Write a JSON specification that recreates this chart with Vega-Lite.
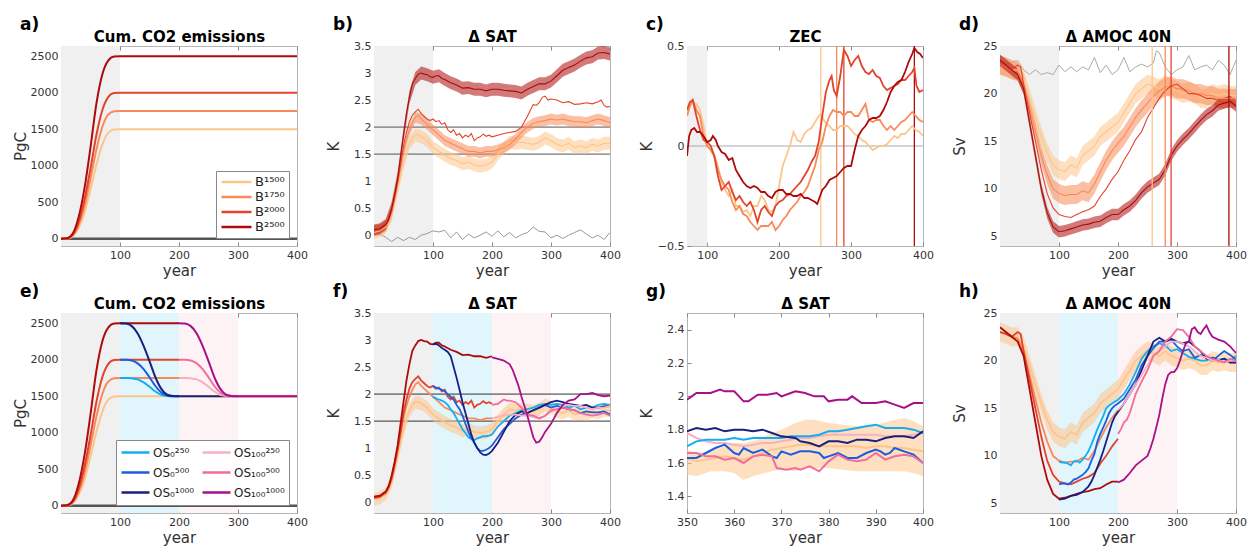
{
"$schema": "https://vega.github.io/schema/vega-lite/v6.json",
"background": "white",
"padding": {"left": 12, "top": 15, "right": 3, "bottom": 2},
"columns": 4,
"bounds": "flush",
"spacing": {"column": 77, "row": 67},
"resolve": {"scale": {"color": "independent", "fill": "independent"}, "legend": {"color": "independent"}},
"config": {
  "font": "DejaVu Sans",
  "view": {"stroke": "#b5b5b5", "strokeWidth": 1},
  "axis": {"grid": false, "domain": false, "ticks": true, "tickSize": -4, "tickColor": "#888", "labelFlush": false, "labelFontSize": 11, "labelColor": "#333", "labelPadding": 7, "titleFontSize": 15, "titleFontWeight": "normal", "titleColor": "#333", "titlePadding": 3},
  "axisY": {"minExtent": 30, "maxExtent": 30},
  "title": {"fontSize": 17, "fontWeight": "bold", "color": "#000", "offset": -4, "anchor": "start", "frame": "group", "dx": -41},
  "legend": {"labelFont": "DejaVu Sans", "labelColor": "#222"}
},
"concat": [
{
  "width": 236, "height": 200, "title": "a)",
  "resolve": {"axis": {"x": "independent"}},
  "encoding": {"x": {"field": "x", "type": "quantitative", "scale": {"domain": [0, 400], "nice": false, "zero": false}, "axis": null}},
  "layer": [
    {"data": {"name": "shade"}, "transform": [{"filter": "datum.p=='base'"}], "mark": {"type": "rect", "clip": true}, "encoding": {
      "x": {"field": "x", "type": "quantitative", "scale": {"domain": [0, 400], "nice": false, "zero": false}, "axis": {"orient": "top", "values": [100, 200, 300, 400], "labels": false, "title": "Cum. CO2 emissions", "titleFontSize": 15, "titleFontWeight": "bold", "titleColor": "#000", "titlePadding": 1}},
      "x2": {"field": "x2"}, "fill": {"field": "p", "type": "nominal", "scale": {"domain": ["base", "os0", "os100"], "range": ["#f0f0f0", "#e1f5fd", "#fdf2f4"]}, "legend": null}}},
    {"data": {"name": "cum"}, "transform": [{"filter": "datum.s=='CTRL'"}], "mark": {"type": "line", "strokeWidth": 2.5, "color": "#555"}, "encoding": {"y": {"field": "y", "type": "quantitative", "scale": {"domain": [-100, 2640], "nice": false, "zero": false}, "axis": {"values": [0, 500, 1000, 1500, 2000, 2500], "title": "PgC", "format": "~r"}}}},
    {"data": {"name": "cum"}, "transform": [{"filter": "indexof(['B1500','B1750','B2000','B2500'], datum.s) >= 0"}], "mark": {"type": "line", "strokeWidth": 2, "interpolate": "monotone"}, "encoding": {
      "x": {"field": "x", "type": "quantitative", "scale": {"domain": [0, 400], "nice": false, "zero": false}, "axis": {"values": [100, 200, 300, 400], "title": "year", "format": "~r"}},
      "y": {"field": "y", "type": "quantitative", "scale": {"domain": [-100, 2640], "nice": false, "zero": false}, "axis": {"values": [0, 500, 1000, 1500, 2000, 2500], "title": "PgC", "format": "~r"}},
      "color": {"field": "s", "type": "nominal", "scale": {"domain": ["B1500","B1750","B2000","B2500","OS0_250","OS0_500","OS0_1000","OS100_250","OS100_500","OS100_1000","CTRL"], "range": ["#fdc58a","#f88a5a","#e3432b","#ad0b0b","#13aef0","#1c5de0","#1b1f7e","#f7b0c0","#f26c9c","#a6118a","#999999"]},
        "legend": {"orient": "bottom-right", "values": ["B1500","B1750","B2000","B2500"], "title": null, "symbolType": "stroke", "symbolSize": 900, "symbolStrokeWidth": 2.5, "clipHeight": 14, "labelFontSize": 13, "labelExpr": "datum.label=='B1500'?'B¹⁵⁰⁰':datum.label=='B1750'?'B¹⁷⁵⁰':datum.label=='B2000'?'B²⁰⁰⁰':'B²⁵⁰⁰'", "fillColor": "white", "strokeColor": "#888", "padding": 4, "offset": 8, "rowPadding": 1, "labelOffset": 2}}
    }}
  ]
},
{
  "width": 236, "height": 200, "title": "b)",
  "resolve": {"axis": {"x": "independent"}},
  "encoding": {"x": {"field": "x", "type": "quantitative", "scale": {"domain": [0, 400], "nice": false, "zero": false}, "axis": null}},
  "layer": [
    {"data": {"name": "shade"}, "transform": [{"filter": "datum.p=='base'"}], "mark": {"type": "rect", "clip": true}, "encoding": {
      "x": {"field": "x", "type": "quantitative", "scale": {"domain": [0, 400], "nice": false, "zero": false}, "axis": {"orient": "top", "values": [100, 200, 300, 400], "labels": false, "title": "Δ SAT", "titleFontSize": 15, "titleFontWeight": "bold", "titleColor": "#000", "titlePadding": 1}},
      "x2": {"field": "x2"}, "fill": {"field": "p", "type": "nominal", "scale": {"domain": ["base", "os0", "os100"], "range": ["#f0f0f0", "#e1f5fd", "#fdf2f4"]}, "legend": null}}},
    {"data": {"name": "hl"}, "mark": {"type": "rule", "color": "#555", "strokeWidth": 1}, "encoding": {"x2": {"field": "x2"}, "y": {"field": "y", "type": "quantitative", "scale": {"domain": [-0.2, 3.5], "nice": false, "zero": false}, "axis": {"values": [0, 0.5, 1, 1.5, 2, 2.5, 3, 3.5], "title": "K", "format": "~r"}}}},
    {"data": {"name": "sat"}, "transform": [{"filter": "datum.s=='CTRL'"}], "mark": {"type": "line", "strokeWidth": 1, "color": "#999"}, "encoding": {"y": {"field": "y", "type": "quantitative", "scale": {"domain": [-0.2, 3.5], "nice": false, "zero": false}, "axis": {"values": [0, 0.5, 1, 1.5, 2, 2.5, 3, 3.5], "title": "K", "format": "~r"}}}},
    {"data": {"name": "satband"}, "mark": {"type": "area", "opacity": 0.55, "clip": true}, "encoding": {
      "y": {"field": "lo", "type": "quantitative", "scale": {"domain": [-0.2, 3.5], "nice": false, "zero": false}, "axis": {"values": [0, 0.5, 1, 1.5, 2, 2.5, 3, 3.5], "title": "K", "format": "~r"}},
      "y2": {"field": "hi"},
      "color": {"field": "s", "type": "nominal", "scale": {"domain": ["B1500","B1750","B2000","B2500","OS0_250","OS0_500","OS0_1000","OS100_250","OS100_500","OS100_1000","CTRL"], "range": ["#fdc58a","#f88a5a","#e3432b","#ad0b0b","#13aef0","#1c5de0","#1b1f7e","#f7b0c0","#f26c9c","#a6118a","#999999"]}, "legend": null}}},
    {"data": {"name": "sat"}, "transform": [{"filter": "indexof(['B1500','B1750','B2000','B2500'], datum.s) >= 0"}], "mark": {"type": "line", "strokeWidth": 1.1, "clip": true}, "encoding": {
      "x": {"field": "x", "type": "quantitative", "scale": {"domain": [0, 400], "nice": false, "zero": false}, "axis": {"values": [100, 200, 300, 400], "title": "year", "format": "~r"}},
      "y": {"field": "y", "type": "quantitative", "scale": {"domain": [-0.2, 3.5], "nice": false, "zero": false}, "axis": {"values": [0, 0.5, 1, 1.5, 2, 2.5, 3, 3.5], "title": "K", "format": "~r"}},
      "color": {"field": "s", "type": "nominal", "scale": {"domain": ["B1500","B1750","B2000","B2500","OS0_250","OS0_500","OS0_1000","OS100_250","OS100_500","OS100_1000","CTRL"], "range": ["#fdc58a","#f88a5a","#e3432b","#ad0b0b","#13aef0","#1c5de0","#1b1f7e","#f7b0c0","#f26c9c","#a6118a","#999999"]}, "legend": null}}}
  ]
},
{
  "width": 236, "height": 200, "title": "c)",
  "resolve": {"axis": {"x": "independent"}},
  "encoding": {"x": {"field": "x", "type": "quantitative", "scale": {"domain": [72, 400], "nice": false, "zero": false}, "axis": null}},
  "layer": [
    {"data": {"name": "shade"}, "transform": [{"filter": "datum.p=='base'"}], "mark": {"type": "rect", "clip": true}, "encoding": {
      "x": {"field": "x", "type": "quantitative", "scale": {"domain": [72, 400], "nice": false, "zero": false}, "axis": {"orient": "top", "values": [100, 200, 300, 400], "labels": false, "title": "ZEC", "titleFontSize": 15, "titleFontWeight": "bold", "titleColor": "#000", "titlePadding": 1}},
      "x2": {"field": "x2"}, "fill": {"field": "p", "type": "nominal", "scale": {"domain": ["base", "os0", "os100"], "range": ["#f0f0f0", "#e1f5fd", "#fdf2f4"]}, "legend": null}}},
    {"data": {"name": "zero"}, "mark": {"type": "rule", "color": "#aaa", "strokeWidth": 1.2, "clip": true}, "encoding": {"x2": {"field": "x2"}, "y": {"field": "y", "type": "quantitative", "scale": {"domain": [-0.5, 0.5], "nice": false, "zero": false}, "axis": {"values": [-0.5, 0, 0.5], "title": "K", "format": "~r"}}}},
    {"data": {"name": "vl"}, "mark": {"type": "rule", "strokeWidth": 1.3}, "encoding": {"color": {"field": "s", "type": "nominal", "scale": {"domain": ["B1500","B1750","B2000","B2500","OS0_250","OS0_500","OS0_1000","OS100_250","OS100_500","OS100_1000","CTRL"], "range": ["#fdc58a","#f88a5a","#e3432b","#ad0b0b","#13aef0","#1c5de0","#1b1f7e","#f7b0c0","#f26c9c","#a6118a","#999999"]}, "legend": null}}},
    {"data": {"name": "zec"}, "mark": {"type": "line", "strokeWidth": 1.8, "clip": true}, "encoding": {
      "x": {"field": "x", "type": "quantitative", "scale": {"domain": [72, 400], "nice": false, "zero": false}, "axis": {"values": [100, 200, 300, 400], "title": "year", "format": "~r"}},
      "y": {"field": "y", "type": "quantitative", "scale": {"domain": [-0.5, 0.5], "nice": false, "zero": false}, "axis": {"values": [-0.5, 0, 0.5], "title": "K", "format": "~r"}},
      "color": {"field": "s", "type": "nominal", "scale": {"domain": ["B1500","B1750","B2000","B2500","OS0_250","OS0_500","OS0_1000","OS100_250","OS100_500","OS100_1000","CTRL"], "range": ["#fdc58a","#f88a5a","#e3432b","#ad0b0b","#13aef0","#1c5de0","#1b1f7e","#f7b0c0","#f26c9c","#a6118a","#999999"]}, "legend": null}}}
  ]
},
{
  "width": 236, "height": 200, "title": "d)",
  "resolve": {"axis": {"x": "independent"}},
  "encoding": {"x": {"field": "x", "type": "quantitative", "scale": {"domain": [0, 400], "nice": false, "zero": false}, "axis": null}},
  "layer": [
    {"data": {"name": "shade"}, "transform": [{"filter": "datum.p=='base'"}], "mark": {"type": "rect", "clip": true}, "encoding": {
      "x": {"field": "x", "type": "quantitative", "scale": {"domain": [0, 400], "nice": false, "zero": false}, "axis": {"orient": "top", "values": [100, 200, 300, 400], "labels": false, "title": "Δ AMOC 40N", "titleFontSize": 15, "titleFontWeight": "bold", "titleColor": "#000", "titlePadding": 1}},
      "x2": {"field": "x2"}, "fill": {"field": "p", "type": "nominal", "scale": {"domain": ["base", "os0", "os100"], "range": ["#f0f0f0", "#e1f5fd", "#fdf2f4"]}, "legend": null}}},
    {"data": {"name": "amoc"}, "transform": [{"filter": "datum.s=='CTRL'"}], "mark": {"type": "line", "strokeWidth": 1, "color": "#aaa"}, "encoding": {"y": {"field": "y", "type": "quantitative", "scale": {"domain": [4, 25], "nice": false, "zero": false}, "axis": {"values": [5, 10, 15, 20, 25], "title": "Sv", "format": "~r"}}}},
    {"data": {"name": "amocband"}, "mark": {"type": "area", "opacity": 0.55, "clip": true}, "encoding": {
      "y": {"field": "lo", "type": "quantitative", "scale": {"domain": [4, 25], "nice": false, "zero": false}, "axis": {"values": [5, 10, 15, 20, 25], "title": "Sv", "format": "~r"}},
      "y2": {"field": "hi"},
      "color": {"field": "s", "type": "nominal", "scale": {"domain": ["B1500","B1750","B2000","B2500","OS0_250","OS0_500","OS0_1000","OS100_250","OS100_500","OS100_1000","CTRL"], "range": ["#fdc58a","#f88a5a","#e3432b","#ad0b0b","#13aef0","#1c5de0","#1b1f7e","#f7b0c0","#f26c9c","#a6118a","#999999"]}, "legend": null}}},
    {"data": {"name": "amoc"}, "transform": [{"filter": "indexof(['B1500','B1750','B2000','B2500'], datum.s) >= 0"}], "mark": {"type": "line", "strokeWidth": 1.1, "clip": true}, "encoding": {
      "x": {"field": "x", "type": "quantitative", "scale": {"domain": [0, 400], "nice": false, "zero": false}, "axis": {"values": [100, 200, 300, 400], "title": "year", "format": "~r"}},
      "y": {"field": "y", "type": "quantitative", "scale": {"domain": [4, 25], "nice": false, "zero": false}, "axis": {"values": [5, 10, 15, 20, 25], "title": "Sv", "format": "~r"}},
      "color": {"field": "s", "type": "nominal", "scale": {"domain": ["B1500","B1750","B2000","B2500","OS0_250","OS0_500","OS0_1000","OS100_250","OS100_500","OS100_1000","CTRL"], "range": ["#fdc58a","#f88a5a","#e3432b","#ad0b0b","#13aef0","#1c5de0","#1b1f7e","#f7b0c0","#f26c9c","#a6118a","#999999"]}, "legend": null}}},
    {"data": {"name": "vl"}, "mark": {"type": "rule", "strokeWidth": 1.3}, "encoding": {"color": {"field": "s", "type": "nominal", "scale": {"domain": ["B1500","B1750","B2000","B2500","OS0_250","OS0_500","OS0_1000","OS100_250","OS100_500","OS100_1000","CTRL"], "range": ["#fdc58a","#f88a5a","#e3432b","#ad0b0b","#13aef0","#1c5de0","#1b1f7e","#f7b0c0","#f26c9c","#a6118a","#999999"]}, "legend": null}}}
  ]
},
{
  "width": 236, "height": 200, "title": "e)",
  "resolve": {"axis": {"x": "independent"}},
  "encoding": {"x": {"field": "x", "type": "quantitative", "scale": {"domain": [0, 400], "nice": false, "zero": false}, "axis": null}},
  "layer": [
    {"data": {"name": "shade"}, "mark": {"type": "rect", "clip": true}, "encoding": {
      "x": {"field": "x", "type": "quantitative", "scale": {"domain": [0, 400], "nice": false, "zero": false}, "axis": {"orient": "top", "values": [100, 200, 300, 400], "labels": false, "title": "Cum. CO2 emissions", "titleFontSize": 15, "titleFontWeight": "bold", "titleColor": "#000", "titlePadding": 1}},
      "x2": {"field": "x2"}, "fill": {"field": "p", "type": "nominal", "scale": {"domain": ["base", "os0", "os100"], "range": ["#f0f0f0", "#e1f5fd", "#fdf2f4"]}, "legend": null}}},
    {"data": {"name": "cum"}, "transform": [{"filter": "datum.s=='CTRL'"}], "mark": {"type": "line", "strokeWidth": 2.5, "color": "#555"}, "encoding": {"y": {"field": "y", "type": "quantitative", "scale": {"domain": [-100, 2640], "nice": false, "zero": false}, "axis": {"values": [0, 500, 1000, 1500, 2000, 2500], "title": "PgC", "format": "~r"}}}},
    {"data": {"name": "cum"}, "transform": [{"filter": "datum.s=='B1500' || (indexof(['B1750','B2000','B2500'], datum.s) >= 0 && datum.x <= 200)"}], "mark": {"type": "line", "strokeWidth": 2, "interpolate": "monotone"}, "encoding": {
      "y": {"field": "y", "type": "quantitative", "scale": {"domain": [-100, 2640], "nice": false, "zero": false}, "axis": {"values": [0, 500, 1000, 1500, 2000, 2500], "title": "PgC", "format": "~r"}},
      "color": {"field": "s", "type": "nominal", "scale": {"domain": ["B1500","B1750","B2000","B2500","OS0_250","OS0_500","OS0_1000","OS100_250","OS100_500","OS100_1000","CTRL"], "range": ["#fdc58a","#f88a5a","#e3432b","#ad0b0b","#13aef0","#1c5de0","#1b1f7e","#f7b0c0","#f26c9c","#a6118a","#999999"]},
        "legend": {"orient": "bottom-right", "values": ["OS0_250","OS0_500","OS0_1000","OS100_250","OS100_500","OS100_1000"], "columns": 2, "title": null, "symbolType": "stroke", "symbolSize": 784, "symbolStrokeWidth": 2.5, "clipHeight": 17, "labelFontSize": 12, "labelExpr": "datum.label=='OS0_250'?'OS₀²⁵⁰':datum.label=='OS0_500'?'OS₀⁵⁰⁰':datum.label=='OS0_1000'?'OS₀¹⁰⁰⁰':datum.label=='OS100_250'?'OS₁₀₀²⁵⁰':datum.label=='OS100_500'?'OS₁₀₀⁵⁰⁰':'OS₁₀₀¹⁰⁰⁰'", "fillColor": "white", "strokeColor": "#888", "padding": 4, "offset": 8, "rowPadding": 3, "columnPadding": 6, "labelOffset": 2}}}},
    {"data": {"name": "cum"}, "transform": [{"filter": "indexof(['OS0_250','OS0_500','OS0_1000','OS100_250','OS100_500','OS100_1000'], datum.s) >= 0"}], "mark": {"type": "line", "strokeWidth": 2, "interpolate": "monotone"}, "encoding": {
      "x": {"field": "x", "type": "quantitative", "scale": {"domain": [0, 400], "nice": false, "zero": false}, "axis": {"values": [100, 200, 300, 400], "title": "year", "format": "~r"}},
      "y": {"field": "y", "type": "quantitative", "scale": {"domain": [-100, 2640], "nice": false, "zero": false}, "axis": {"values": [0, 500, 1000, 1500, 2000, 2500], "title": "PgC", "format": "~r"}},
      "color": {"field": "s", "type": "nominal", "scale": {"domain": ["B1500","B1750","B2000","B2500","OS0_250","OS0_500","OS0_1000","OS100_250","OS100_500","OS100_1000","CTRL"], "range": ["#fdc58a","#f88a5a","#e3432b","#ad0b0b","#13aef0","#1c5de0","#1b1f7e","#f7b0c0","#f26c9c","#a6118a","#999999"]},
        "legend": {"orient": "bottom-right", "values": ["OS0_250","OS0_500","OS0_1000","OS100_250","OS100_500","OS100_1000"], "columns": 2, "title": null, "symbolType": "stroke", "symbolSize": 784, "symbolStrokeWidth": 2.5, "clipHeight": 17, "labelFontSize": 12, "labelExpr": "datum.label=='OS0_250'?'OS₀²⁵⁰':datum.label=='OS0_500'?'OS₀⁵⁰⁰':datum.label=='OS0_1000'?'OS₀¹⁰⁰⁰':datum.label=='OS100_250'?'OS₁₀₀²⁵⁰':datum.label=='OS100_500'?'OS₁₀₀⁵⁰⁰':'OS₁₀₀¹⁰⁰⁰'", "fillColor": "white", "strokeColor": "#888", "padding": 4, "offset": 8, "rowPadding": 3, "columnPadding": 6, "labelOffset": 2}}
    }}
  ]
},
{
  "width": 236, "height": 200, "title": "f)",
  "resolve": {"axis": {"x": "independent"}},
  "encoding": {"x": {"field": "x", "type": "quantitative", "scale": {"domain": [0, 400], "nice": false, "zero": false}, "axis": null}},
  "layer": [
    {"data": {"name": "shade"}, "mark": {"type": "rect", "clip": true}, "encoding": {
      "x": {"field": "x", "type": "quantitative", "scale": {"domain": [0, 400], "nice": false, "zero": false}, "axis": {"orient": "top", "values": [100, 200, 300, 400], "labels": false, "title": "Δ SAT", "titleFontSize": 15, "titleFontWeight": "bold", "titleColor": "#000", "titlePadding": 1}},
      "x2": {"field": "x2"}, "fill": {"field": "p", "type": "nominal", "scale": {"domain": ["base", "os0", "os100"], "range": ["#f0f0f0", "#e1f5fd", "#fdf2f4"]}, "legend": null}}},
    {"data": {"name": "hl"}, "mark": {"type": "rule", "color": "#333", "strokeWidth": 1}, "encoding": {"x2": {"field": "x2"}, "y": {"field": "y", "type": "quantitative", "scale": {"domain": [-0.2, 3.5], "nice": false, "zero": false}, "axis": {"values": [0, 0.5, 1, 1.5, 2, 2.5, 3, 3.5], "title": "K", "format": "~r"}}}},
    {"data": {"name": "satband"}, "transform": [{"filter": "datum.s=='B1500'"}], "mark": {"type": "area", "opacity": 0.55, "clip": true}, "encoding": {
      "y": {"field": "lo", "type": "quantitative", "scale": {"domain": [-0.2, 3.5], "nice": false, "zero": false}, "axis": {"values": [0, 0.5, 1, 1.5, 2, 2.5, 3, 3.5], "title": "K", "format": "~r"}},
      "y2": {"field": "hi"},
      "color": {"field": "s", "type": "nominal", "scale": {"domain": ["B1500","B1750","B2000","B2500","OS0_250","OS0_500","OS0_1000","OS100_250","OS100_500","OS100_1000","CTRL"], "range": ["#fdc58a","#f88a5a","#e3432b","#ad0b0b","#13aef0","#1c5de0","#1b1f7e","#f7b0c0","#f26c9c","#a6118a","#999999"]}, "legend": null}}},
    {"data": {"name": "sat"}, "transform": [{"filter": "datum.s=='B1500' || (indexof(['B1750','B2000','B2500'], datum.s) >= 0 && datum.x <= 200)"}], "mark": {"type": "line", "strokeWidth": 1.8, "clip": true}, "encoding": {
      "y": {"field": "y", "type": "quantitative", "scale": {"domain": [-0.2, 3.5], "nice": false, "zero": false}, "axis": {"values": [0, 0.5, 1, 1.5, 2, 2.5, 3, 3.5], "title": "K", "format": "~r"}},
      "color": {"field": "s", "type": "nominal", "scale": {"domain": ["B1500","B1750","B2000","B2500","OS0_250","OS0_500","OS0_1000","OS100_250","OS100_500","OS100_1000","CTRL"], "range": ["#fdc58a","#f88a5a","#e3432b","#ad0b0b","#13aef0","#1c5de0","#1b1f7e","#f7b0c0","#f26c9c","#a6118a","#999999"]}, "legend": null}}},
    {"data": {"name": "sat"}, "transform": [{"filter": "indexof(['OS0_250','OS0_500','OS0_1000','OS100_250','OS100_500','OS100_1000'], datum.s) >= 0"}], "mark": {"type": "line", "strokeWidth": 1.8, "clip": true}, "encoding": {
      "x": {"field": "x", "type": "quantitative", "scale": {"domain": [0, 400], "nice": false, "zero": false}, "axis": {"values": [100, 200, 300, 400], "title": "year", "format": "~r"}},
      "y": {"field": "y", "type": "quantitative", "scale": {"domain": [-0.2, 3.5], "nice": false, "zero": false}, "axis": {"values": [0, 0.5, 1, 1.5, 2, 2.5, 3, 3.5], "title": "K", "format": "~r"}},
      "color": {"field": "s", "type": "nominal", "scale": {"domain": ["B1500","B1750","B2000","B2500","OS0_250","OS0_500","OS0_1000","OS100_250","OS100_500","OS100_1000","CTRL"], "range": ["#fdc58a","#f88a5a","#e3432b","#ad0b0b","#13aef0","#1c5de0","#1b1f7e","#f7b0c0","#f26c9c","#a6118a","#999999"]}, "legend": null}}}
  ]
},
{
  "width": 236, "height": 200, "title": "g)",
  "resolve": {"axis": {"x": "independent"}},
  "encoding": {"x": {"field": "x", "type": "quantitative", "scale": {"domain": [350, 400], "nice": false, "zero": false}, "axis": null}},
  "layer": [
    {"data": {"name": "satgband"}, "mark": {"type": "area", "opacity": 0.55, "clip": true}, "encoding": {
      "x": {"field": "x", "type": "quantitative", "scale": {"domain": [350, 400], "nice": false, "zero": false}, "axis": {"orient": "top", "values": [350, 360, 370, 380, 390, 400], "labels": false, "title": "Δ SAT", "titleFontSize": 15, "titleFontWeight": "bold", "titleColor": "#000", "titlePadding": 1}},
      "y": {"field": "lo", "type": "quantitative", "scale": {"domain": [1.3, 2.5], "nice": false, "zero": false}, "axis": {"values": [1.4, 1.6, 1.8, 2, 2.2, 2.4], "title": "K", "format": "~r"}},
      "y2": {"field": "hi"},
      "color": {"field": "s", "type": "nominal", "scale": {"domain": ["B1500","B1750","B2000","B2500","OS0_250","OS0_500","OS0_1000","OS100_250","OS100_500","OS100_1000","CTRL"], "range": ["#fdc58a","#f88a5a","#e3432b","#ad0b0b","#13aef0","#1c5de0","#1b1f7e","#f7b0c0","#f26c9c","#a6118a","#999999"]}, "legend": null}}},
    {"data": {"name": "satg"}, "mark": {"type": "line", "strokeWidth": 2, "clip": true}, "encoding": {
      "x": {"field": "x", "type": "quantitative", "scale": {"domain": [350, 400], "nice": false, "zero": false}, "axis": {"values": [350, 360, 370, 380, 390, 400], "title": "year", "format": "~r"}},
      "y": {"field": "y", "type": "quantitative", "scale": {"domain": [1.3, 2.5], "nice": false, "zero": false}, "axis": {"values": [1.4, 1.6, 1.8, 2, 2.2, 2.4], "title": "K", "format": "~r"}},
      "color": {"field": "s", "type": "nominal", "scale": {"domain": ["B1500","B1750","B2000","B2500","OS0_250","OS0_500","OS0_1000","OS100_250","OS100_500","OS100_1000","CTRL"], "range": ["#fdc58a","#f88a5a","#e3432b","#ad0b0b","#13aef0","#1c5de0","#1b1f7e","#f7b0c0","#f26c9c","#a6118a","#999999"]}, "legend": null}}}
  ]
},
{
  "width": 236, "height": 200, "title": "h)",
  "resolve": {"axis": {"x": "independent"}},
  "encoding": {"x": {"field": "x", "type": "quantitative", "scale": {"domain": [0, 400], "nice": false, "zero": false}, "axis": null}},
  "layer": [
    {"data": {"name": "shade"}, "mark": {"type": "rect", "clip": true}, "encoding": {
      "x": {"field": "x", "type": "quantitative", "scale": {"domain": [0, 400], "nice": false, "zero": false}, "axis": {"orient": "top", "values": [100, 200, 300, 400], "labels": false, "title": "Δ AMOC 40N", "titleFontSize": 15, "titleFontWeight": "bold", "titleColor": "#000", "titlePadding": 1}},
      "x2": {"field": "x2"}, "fill": {"field": "p", "type": "nominal", "scale": {"domain": ["base", "os0", "os100"], "range": ["#f0f0f0", "#e1f5fd", "#fdf2f4"]}, "legend": null}}},
    {"data": {"name": "amocband"}, "transform": [{"filter": "datum.s=='B1500'"}], "mark": {"type": "area", "opacity": 0.55, "clip": true}, "encoding": {
      "y": {"field": "lo", "type": "quantitative", "scale": {"domain": [4, 25], "nice": false, "zero": false}, "axis": {"values": [5, 10, 15, 20, 25], "title": "Sv", "format": "~r"}},
      "y2": {"field": "hi"},
      "color": {"field": "s", "type": "nominal", "scale": {"domain": ["B1500","B1750","B2000","B2500","OS0_250","OS0_500","OS0_1000","OS100_250","OS100_500","OS100_1000","CTRL"], "range": ["#fdc58a","#f88a5a","#e3432b","#ad0b0b","#13aef0","#1c5de0","#1b1f7e","#f7b0c0","#f26c9c","#a6118a","#999999"]}, "legend": null}}},
    {"data": {"name": "amoc"}, "transform": [{"filter": "datum.s=='B1500' || (indexof(['B1750','B2000','B2500'], datum.s) >= 0 && datum.x <= 200)"}], "mark": {"type": "line", "strokeWidth": 1.8, "clip": true}, "encoding": {
      "y": {"field": "y", "type": "quantitative", "scale": {"domain": [4, 25], "nice": false, "zero": false}, "axis": {"values": [5, 10, 15, 20, 25], "title": "Sv", "format": "~r"}},
      "color": {"field": "s", "type": "nominal", "scale": {"domain": ["B1500","B1750","B2000","B2500","OS0_250","OS0_500","OS0_1000","OS100_250","OS100_500","OS100_1000","CTRL"], "range": ["#fdc58a","#f88a5a","#e3432b","#ad0b0b","#13aef0","#1c5de0","#1b1f7e","#f7b0c0","#f26c9c","#a6118a","#999999"]}, "legend": null}}},
    {"data": {"name": "amoc"}, "transform": [{"filter": "indexof(['OS0_250','OS0_500','OS0_1000','OS100_250','OS100_500','OS100_1000'], datum.s) >= 0"}], "mark": {"type": "line", "strokeWidth": 1.8, "clip": true}, "encoding": {
      "x": {"field": "x", "type": "quantitative", "scale": {"domain": [0, 400], "nice": false, "zero": false}, "axis": {"values": [100, 200, 300, 400], "title": "year", "format": "~r"}},
      "y": {"field": "y", "type": "quantitative", "scale": {"domain": [4, 25], "nice": false, "zero": false}, "axis": {"values": [5, 10, 15, 20, 25], "title": "Sv", "format": "~r"}},
      "color": {"field": "s", "type": "nominal", "scale": {"domain": ["B1500","B1750","B2000","B2500","OS0_250","OS0_500","OS0_1000","OS100_250","OS100_500","OS100_1000","CTRL"], "range": ["#fdc58a","#f88a5a","#e3432b","#ad0b0b","#13aef0","#1c5de0","#1b1f7e","#f7b0c0","#f26c9c","#a6118a","#999999"]}, "legend": null}}}
  ]
}
],
"datasets": {
"shade": [{"p":"base","x":0,"x2":100},{"p":"os0","x":100,"x2":200},{"p":"os100","x":200,"x2":300}],
"hl": [{"x":0,"x2":400,"y":2},{"x":0,"x2":400,"y":1.5}],
"zero": [{"x":0,"x2":400,"y":0}],
"vl": [{"s":"B1500","x":258},{"s":"B1750","x":280},{"s":"B2000","x":290},{"s":"B2500","x":388}],
"cum": [
{"s":"CTRL","x":0,"y":0},{"s":"CTRL","x":400,"y":0},
{"s":"B1500","x":0,"y":0},{"s":"B1500","x":10,"y":2},{"s":"B1500","x":20,"y":35},{"s":"B1500","x":30,"y":150},{"s":"B1500","x":40,"y":360},{"s":"B1500","x":50,"y":670},{"s":"B1500","x":60,"y":1010},{"s":"B1500","x":70,"y":1290},{"s":"B1500","x":80,"y":1450},{"s":"B1500","x":90,"y":1495},{"s":"B1500","x":100,"y":1500},{"s":"B1500","x":200,"y":1500},{"s":"B1500","x":400,"y":1500},
{"s":"B1750","x":0,"y":0},{"s":"B1750","x":10,"y":3},{"s":"B1750","x":20,"y":45},{"s":"B1750","x":30,"y":190},{"s":"B1750","x":40,"y":450},{"s":"B1750","x":50,"y":820},{"s":"B1750","x":60,"y":1220},{"s":"B1750","x":70,"y":1530},{"s":"B1750","x":80,"y":1700},{"s":"B1750","x":90,"y":1745},{"s":"B1750","x":100,"y":1750},{"s":"B1750","x":200,"y":1750},{"s":"B1750","x":400,"y":1750},
{"s":"B2000","x":0,"y":0},{"s":"B2000","x":10,"y":4},{"s":"B2000","x":20,"y":55},{"s":"B2000","x":30,"y":230},{"s":"B2000","x":40,"y":540},{"s":"B2000","x":50,"y":960},{"s":"B2000","x":60,"y":1420},{"s":"B2000","x":70,"y":1760},{"s":"B2000","x":80,"y":1940},{"s":"B2000","x":90,"y":1995},{"s":"B2000","x":100,"y":2000},{"s":"B2000","x":200,"y":2000},{"s":"B2000","x":400,"y":2000},
{"s":"B2500","x":0,"y":0},{"s":"B2500","x":10,"y":5},{"s":"B2500","x":20,"y":70},{"s":"B2500","x":30,"y":300},{"s":"B2500","x":40,"y":700},{"s":"B2500","x":50,"y":1250},{"s":"B2500","x":60,"y":1850},{"s":"B2500","x":70,"y":2250},{"s":"B2500","x":80,"y":2440},{"s":"B2500","x":90,"y":2495},{"s":"B2500","x":100,"y":2500},{"s":"B2500","x":200,"y":2500},{"s":"B2500","x":400,"y":2500},
{"s":"OS0_250","x":100,"y":1750},{"s":"OS0_250","x":110,"y":1750},{"s":"OS0_250","x":120,"y":1745},{"s":"OS0_250","x":130,"y":1730},{"s":"OS0_250","x":140,"y":1690},{"s":"OS0_250","x":150,"y":1630},{"s":"OS0_250","x":160,"y":1565},{"s":"OS0_250","x":170,"y":1520},{"s":"OS0_250","x":180,"y":1503},{"s":"OS0_250","x":190,"y":1500},{"s":"OS0_250","x":200,"y":1500},
{"s":"OS0_500","x":100,"y":2000},{"s":"OS0_500","x":110,"y":2000},{"s":"OS0_500","x":120,"y":1990},{"s":"OS0_500","x":130,"y":1950},{"s":"OS0_500","x":140,"y":1870},{"s":"OS0_500","x":150,"y":1760},{"s":"OS0_500","x":160,"y":1640},{"s":"OS0_500","x":170,"y":1550},{"s":"OS0_500","x":180,"y":1510},{"s":"OS0_500","x":190,"y":1500},{"s":"OS0_500","x":200,"y":1500},
{"s":"OS0_1000","x":100,"y":2500},{"s":"OS0_1000","x":110,"y":2495},{"s":"OS0_1000","x":120,"y":2460},{"s":"OS0_1000","x":130,"y":2360},{"s":"OS0_1000","x":140,"y":2190},{"s":"OS0_1000","x":150,"y":1980},{"s":"OS0_1000","x":160,"y":1760},{"s":"OS0_1000","x":170,"y":1600},{"s":"OS0_1000","x":180,"y":1520},{"s":"OS0_1000","x":190,"y":1502},{"s":"OS0_1000","x":200,"y":1500},{"s":"OS0_1000","x":300,"y":1500},
{"s":"OS100_250","x":200,"y":1750},{"s":"OS100_250","x":210,"y":1750},{"s":"OS100_250","x":220,"y":1745},{"s":"OS100_250","x":230,"y":1730},{"s":"OS100_250","x":240,"y":1690},{"s":"OS100_250","x":250,"y":1630},{"s":"OS100_250","x":260,"y":1565},{"s":"OS100_250","x":270,"y":1520},{"s":"OS100_250","x":280,"y":1503},{"s":"OS100_250","x":290,"y":1500},{"s":"OS100_250","x":400,"y":1500},
{"s":"OS100_500","x":200,"y":2000},{"s":"OS100_500","x":210,"y":2000},{"s":"OS100_500","x":220,"y":1990},{"s":"OS100_500","x":230,"y":1950},{"s":"OS100_500","x":240,"y":1870},{"s":"OS100_500","x":250,"y":1760},{"s":"OS100_500","x":260,"y":1640},{"s":"OS100_500","x":270,"y":1550},{"s":"OS100_500","x":280,"y":1510},{"s":"OS100_500","x":290,"y":1500},{"s":"OS100_500","x":400,"y":1500},
{"s":"OS100_1000","x":200,"y":2500},{"s":"OS100_1000","x":210,"y":2495},{"s":"OS100_1000","x":220,"y":2460},{"s":"OS100_1000","x":230,"y":2360},{"s":"OS100_1000","x":240,"y":2190},{"s":"OS100_1000","x":250,"y":1980},{"s":"OS100_1000","x":260,"y":1760},{"s":"OS100_1000","x":270,"y":1600},{"s":"OS100_1000","x":280,"y":1520},{"s":"OS100_1000","x":290,"y":1502},{"s":"OS100_1000","x":300,"y":1500},{"s":"OS100_1000","x":400,"y":1500}
],
"sat": [
{"s":"CTRL","x":0,"y":0},{"s":"CTRL","x":10,"y":0.02},{"s":"CTRL","x":20,"y":-0.04},{"s":"CTRL","x":30,"y":-0.12},{"s":"CTRL","x":40,"y":-0.04},{"s":"CTRL","x":50,"y":-0.1},{"s":"CTRL","x":60,"y":-0.04},{"s":"CTRL","x":70,"y":-0.08},{"s":"CTRL","x":80,"y":0},{"s":"CTRL","x":90,"y":0.03},{"s":"CTRL","x":100,"y":0.08},{"s":"CTRL","x":110,"y":0.06},{"s":"CTRL","x":120,"y":0.09},{"s":"CTRL","x":130,"y":-0.05},{"s":"CTRL","x":140,"y":0.06},{"s":"CTRL","x":150,"y":-0.08},{"s":"CTRL","x":160,"y":0.02},{"s":"CTRL","x":170,"y":-0.05},{"s":"CTRL","x":180,"y":0},{"s":"CTRL","x":190,"y":0.06},{"s":"CTRL","x":200,"y":-0.02},{"s":"CTRL","x":210,"y":0.08},{"s":"CTRL","x":220,"y":-0.03},{"s":"CTRL","x":230,"y":0.05},{"s":"CTRL","x":240,"y":-0.05},{"s":"CTRL","x":250,"y":0.01},{"s":"CTRL","x":260,"y":0.05},{"s":"CTRL","x":270,"y":0.15},{"s":"CTRL","x":280,"y":0.07},{"s":"CTRL","x":290,"y":0.06},{"s":"CTRL","x":300,"y":-0.05},{"s":"CTRL","x":310,"y":0},{"s":"CTRL","x":320,"y":-0.06},{"s":"CTRL","x":330,"y":0},{"s":"CTRL","x":340,"y":0.05},{"s":"CTRL","x":350,"y":0.1},{"s":"CTRL","x":360,"y":0.02},{"s":"CTRL","x":370,"y":-0.05},{"s":"CTRL","x":380,"y":0},{"s":"CTRL","x":390,"y":-0.08},{"s":"CTRL","x":400,"y":0.05},
{"s":"B1500","x":0,"y":0.05},{"s":"B1500","x":10,"y":0.08},{"s":"B1500","x":20,"y":0.15},{"s":"B1500","x":25,"y":0.24},{"s":"B1500","x":30,"y":0.38},{"s":"B1500","x":35,"y":0.6},{"s":"B1500","x":40,"y":0.85},{"s":"B1500","x":45,"y":1.1},{"s":"B1500","x":50,"y":1.35},{"s":"B1500","x":55,"y":1.55},{"s":"B1500","x":60,"y":1.7},{"s":"B1500","x":65,"y":1.8},{"s":"B1500","x":70,"y":1.85},{"s":"B1500","x":75,"y":1.86},{"s":"B1500","x":80,"y":1.82},{"s":"B1500","x":90,"y":1.75},{"s":"B1500","x":95,"y":1.68},{"s":"B1500","x":100,"y":1.62},{"s":"B1500","x":110,"y":1.55},{"s":"B1500","x":120,"y":1.48},{"s":"B1500","x":130,"y":1.42},{"s":"B1500","x":140,"y":1.38},{"s":"B1500","x":150,"y":1.32},{"s":"B1500","x":160,"y":1.35},{"s":"B1500","x":170,"y":1.3},{"s":"B1500","x":180,"y":1.28},{"s":"B1500","x":190,"y":1.3},{"s":"B1500","x":200,"y":1.35},{"s":"B1500","x":210,"y":1.5},{"s":"B1500","x":220,"y":1.62},{"s":"B1500","x":230,"y":1.72},{"s":"B1500","x":240,"y":1.7},{"s":"B1500","x":250,"y":1.72},{"s":"B1500","x":260,"y":1.7},{"s":"B1500","x":270,"y":1.68},{"s":"B1500","x":280,"y":1.72},{"s":"B1500","x":290,"y":1.8},{"s":"B1500","x":300,"y":1.75},{"s":"B1500","x":310,"y":1.68},{"s":"B1500","x":320,"y":1.65},{"s":"B1500","x":330,"y":1.7},{"s":"B1500","x":340,"y":1.62},{"s":"B1500","x":350,"y":1.65},{"s":"B1500","x":360,"y":1.62},{"s":"B1500","x":370,"y":1.68},{"s":"B1500","x":380,"y":1.65},{"s":"B1500","x":390,"y":1.7},{"s":"B1500","x":400,"y":1.7},
{"s":"B1750","x":0,"y":0.08},{"s":"B1750","x":10,"y":0.1},{"s":"B1750","x":20,"y":0.17},{"s":"B1750","x":25,"y":0.27},{"s":"B1750","x":30,"y":0.42},{"s":"B1750","x":35,"y":0.67},{"s":"B1750","x":40,"y":0.95},{"s":"B1750","x":45,"y":1.25},{"s":"B1750","x":50,"y":1.55},{"s":"B1750","x":55,"y":1.78},{"s":"B1750","x":60,"y":1.95},{"s":"B1750","x":65,"y":2.08},{"s":"B1750","x":70,"y":2.18},{"s":"B1750","x":75,"y":2.22},{"s":"B1750","x":80,"y":2.15},{"s":"B1750","x":90,"y":2.05},{"s":"B1750","x":100,"y":1.95},{"s":"B1750","x":110,"y":1.85},{"s":"B1750","x":120,"y":1.75},{"s":"B1750","x":130,"y":1.7},{"s":"B1750","x":140,"y":1.65},{"s":"B1750","x":150,"y":1.6},{"s":"B1750","x":160,"y":1.55},{"s":"B1750","x":170,"y":1.55},{"s":"B1750","x":180,"y":1.52},{"s":"B1750","x":190,"y":1.55},{"s":"B1750","x":200,"y":1.55},{"s":"B1750","x":210,"y":1.58},{"s":"B1750","x":220,"y":1.62},{"s":"B1750","x":230,"y":1.68},{"s":"B1750","x":240,"y":1.78},{"s":"B1750","x":250,"y":1.9},{"s":"B1750","x":260,"y":2.0},{"s":"B1750","x":270,"y":2.07},{"s":"B1750","x":280,"y":2.1},{"s":"B1750","x":290,"y":2.12},{"s":"B1750","x":300,"y":2.15},{"s":"B1750","x":310,"y":2.13},{"s":"B1750","x":320,"y":2.15},{"s":"B1750","x":330,"y":2.12},{"s":"B1750","x":340,"y":2.1},{"s":"B1750","x":350,"y":2.1},{"s":"B1750","x":360,"y":2.08},{"s":"B1750","x":370,"y":2.12},{"s":"B1750","x":380,"y":2.15},{"s":"B1750","x":390,"y":2.12},{"s":"B1750","x":400,"y":2.08},
{"s":"B2000","x":0,"y":0.08},{"s":"B2000","x":10,"y":0.1},{"s":"B2000","x":20,"y":0.18},{"s":"B2000","x":25,"y":0.28},{"s":"B2000","x":30,"y":0.45},{"s":"B2000","x":35,"y":0.7},{"s":"B2000","x":40,"y":0.98},{"s":"B2000","x":45,"y":1.3},{"s":"B2000","x":50,"y":1.65},{"s":"B2000","x":55,"y":1.9},{"s":"B2000","x":60,"y":2.1},{"s":"B2000","x":65,"y":2.22},{"s":"B2000","x":70,"y":2.28},{"s":"B2000","x":75,"y":2.33},{"s":"B2000","x":80,"y":2.25},{"s":"B2000","x":85,"y":2.2},{"s":"B2000","x":90,"y":2.15},{"s":"B2000","x":95,"y":2.12},{"s":"B2000","x":100,"y":2.15},{"s":"B2000","x":105,"y":2.1},{"s":"B2000","x":110,"y":2.12},{"s":"B2000","x":115,"y":2.05},{"s":"B2000","x":120,"y":2.08},{"s":"B2000","x":125,"y":1.95},{"s":"B2000","x":130,"y":1.9},{"s":"B2000","x":135,"y":1.95},{"s":"B2000","x":140,"y":1.85},{"s":"B2000","x":145,"y":1.88},{"s":"B2000","x":150,"y":1.8},{"s":"B2000","x":155,"y":1.85},{"s":"B2000","x":160,"y":1.82},{"s":"B2000","x":165,"y":1.88},{"s":"B2000","x":170,"y":1.75},{"s":"B2000","x":175,"y":1.8},{"s":"B2000","x":180,"y":1.82},{"s":"B2000","x":185,"y":1.87},{"s":"B2000","x":190,"y":1.83},{"s":"B2000","x":195,"y":1.85},{"s":"B2000","x":200,"y":1.82},{"s":"B2000","x":210,"y":1.85},{"s":"B2000","x":220,"y":1.88},{"s":"B2000","x":230,"y":1.9},{"s":"B2000","x":240,"y":1.92},{"s":"B2000","x":250,"y":2.0},{"s":"B2000","x":260,"y":2.2},{"s":"B2000","x":270,"y":2.42},{"s":"B2000","x":275,"y":2.4},{"s":"B2000","x":280,"y":2.45},{"s":"B2000","x":285,"y":2.55},{"s":"B2000","x":290,"y":2.57},{"s":"B2000","x":295,"y":2.5},{"s":"B2000","x":300,"y":2.52},{"s":"B2000","x":310,"y":2.5},{"s":"B2000","x":320,"y":2.45},{"s":"B2000","x":330,"y":2.47},{"s":"B2000","x":340,"y":2.42},{"s":"B2000","x":350,"y":2.43},{"s":"B2000","x":360,"y":2.45},{"s":"B2000","x":370,"y":2.43},{"s":"B2000","x":380,"y":2.47},{"s":"B2000","x":385,"y":2.5},{"s":"B2000","x":390,"y":2.4},{"s":"B2000","x":395,"y":2.37},{"s":"B2000","x":400,"y":2.38},
{"s":"B2500","x":0,"y":0.1},{"s":"B2500","x":10,"y":0.12},{"s":"B2500","x":20,"y":0.2},{"s":"B2500","x":25,"y":0.3},{"s":"B2500","x":30,"y":0.5},{"s":"B2500","x":35,"y":0.75},{"s":"B2500","x":40,"y":1.05},{"s":"B2500","x":45,"y":1.45},{"s":"B2500","x":50,"y":1.85},{"s":"B2500","x":55,"y":2.25},{"s":"B2500","x":60,"y":2.55},{"s":"B2500","x":65,"y":2.8},{"s":"B2500","x":70,"y":2.9},{"s":"B2500","x":75,"y":2.98},{"s":"B2500","x":80,"y":3.0},{"s":"B2500","x":85,"y":2.98},{"s":"B2500","x":90,"y":2.97},{"s":"B2500","x":95,"y":2.93},{"s":"B2500","x":100,"y":2.92},{"s":"B2500","x":105,"y":2.95},{"s":"B2500","x":110,"y":2.95},{"s":"B2500","x":115,"y":2.9},{"s":"B2500","x":120,"y":2.88},{"s":"B2500","x":130,"y":2.82},{"s":"B2500","x":140,"y":2.78},{"s":"B2500","x":150,"y":2.72},{"s":"B2500","x":160,"y":2.73},{"s":"B2500","x":170,"y":2.7},{"s":"B2500","x":180,"y":2.7},{"s":"B2500","x":190,"y":2.67},{"s":"B2500","x":200,"y":2.7},{"s":"B2500","x":210,"y":2.7},{"s":"B2500","x":220,"y":2.68},{"s":"B2500","x":230,"y":2.67},{"s":"B2500","x":240,"y":2.66},{"s":"B2500","x":250,"y":2.63},{"s":"B2500","x":260,"y":2.7},{"s":"B2500","x":270,"y":2.75},{"s":"B2500","x":280,"y":2.8},{"s":"B2500","x":290,"y":2.8},{"s":"B2500","x":300,"y":2.85},{"s":"B2500","x":310,"y":2.95},{"s":"B2500","x":320,"y":3.05},{"s":"B2500","x":330,"y":3.1},{"s":"B2500","x":340,"y":3.15},{"s":"B2500","x":350,"y":3.22},{"s":"B2500","x":360,"y":3.28},{"s":"B2500","x":370,"y":3.3},{"s":"B2500","x":380,"y":3.37},{"s":"B2500","x":390,"y":3.38},{"s":"B2500","x":400,"y":3.35},
{"s":"OS0_250","x":100,"y":1.95},{"s":"OS0_250","x":105,"y":1.92},{"s":"OS0_250","x":110,"y":1.9},{"s":"OS0_250","x":115,"y":1.88},{"s":"OS0_250","x":120,"y":1.85},{"s":"OS0_250","x":125,"y":1.8},{"s":"OS0_250","x":130,"y":1.72},{"s":"OS0_250","x":135,"y":1.65},{"s":"OS0_250","x":140,"y":1.55},{"s":"OS0_250","x":145,"y":1.45},{"s":"OS0_250","x":150,"y":1.35},{"s":"OS0_250","x":155,"y":1.28},{"s":"OS0_250","x":160,"y":1.2},{"s":"OS0_250","x":165,"y":1.17},{"s":"OS0_250","x":170,"y":1.15},{"s":"OS0_250","x":175,"y":1.18},{"s":"OS0_250","x":180,"y":1.2},{"s":"OS0_250","x":185,"y":1.22},{"s":"OS0_250","x":190,"y":1.22},{"s":"OS0_250","x":195,"y":1.23},{"s":"OS0_250","x":200,"y":1.25},{"s":"OS0_250","x":210,"y":1.4},{"s":"OS0_250","x":220,"y":1.5},{"s":"OS0_250","x":230,"y":1.6},{"s":"OS0_250","x":240,"y":1.65},{"s":"OS0_250","x":250,"y":1.7},{"s":"OS0_250","x":260,"y":1.72},{"s":"OS0_250","x":270,"y":1.75},{"s":"OS0_250","x":280,"y":1.8},{"s":"OS0_250","x":290,"y":1.82},{"s":"OS0_250","x":300,"y":1.8},{"s":"OS0_250","x":310,"y":1.82},{"s":"OS0_250","x":320,"y":1.8},{"s":"OS0_250","x":330,"y":1.75},{"s":"OS0_250","x":340,"y":1.78},{"s":"OS0_250","x":350,"y":1.72},{"s":"OS0_250","x":360,"y":1.75},{"s":"OS0_250","x":370,"y":1.75},{"s":"OS0_250","x":380,"y":1.8},{"s":"OS0_250","x":390,"y":1.82},{"s":"OS0_250","x":400,"y":1.8},
{"s":"OS0_500","x":100,"y":2.15},{"s":"OS0_500","x":105,"y":2.12},{"s":"OS0_500","x":110,"y":2.1},{"s":"OS0_500","x":115,"y":2.08},{"s":"OS0_500","x":120,"y":2.05},{"s":"OS0_500","x":125,"y":2.0},{"s":"OS0_500","x":130,"y":1.95},{"s":"OS0_500","x":135,"y":1.9},{"s":"OS0_500","x":140,"y":1.8},{"s":"OS0_500","x":145,"y":1.72},{"s":"OS0_500","x":150,"y":1.6},{"s":"OS0_500","x":155,"y":1.45},{"s":"OS0_500","x":160,"y":1.3},{"s":"OS0_500","x":165,"y":1.18},{"s":"OS0_500","x":170,"y":1.1},{"s":"OS0_500","x":175,"y":1.0},{"s":"OS0_500","x":180,"y":0.95},{"s":"OS0_500","x":185,"y":0.95},{"s":"OS0_500","x":190,"y":0.97},{"s":"OS0_500","x":195,"y":1.0},{"s":"OS0_500","x":200,"y":1.05},{"s":"OS0_500","x":210,"y":1.2},{"s":"OS0_500","x":220,"y":1.35},{"s":"OS0_500","x":230,"y":1.45},{"s":"OS0_500","x":240,"y":1.55},{"s":"OS0_500","x":250,"y":1.62},{"s":"OS0_500","x":260,"y":1.65},{"s":"OS0_500","x":270,"y":1.7},{"s":"OS0_500","x":280,"y":1.75},{"s":"OS0_500","x":290,"y":1.8},{"s":"OS0_500","x":300,"y":1.75},{"s":"OS0_500","x":310,"y":1.78},{"s":"OS0_500","x":320,"y":1.75},{"s":"OS0_500","x":330,"y":1.72},{"s":"OS0_500","x":340,"y":1.7},{"s":"OS0_500","x":350,"y":1.65},{"s":"OS0_500","x":360,"y":1.68},{"s":"OS0_500","x":370,"y":1.66},{"s":"OS0_500","x":380,"y":1.66},{"s":"OS0_500","x":390,"y":1.68},{"s":"OS0_500","x":400,"y":1.62},
{"s":"OS0_1000","x":100,"y":2.92},{"s":"OS0_1000","x":105,"y":2.93},{"s":"OS0_1000","x":110,"y":2.9},{"s":"OS0_1000","x":115,"y":2.85},{"s":"OS0_1000","x":120,"y":2.82},{"s":"OS0_1000","x":125,"y":2.78},{"s":"OS0_1000","x":130,"y":2.7},{"s":"OS0_1000","x":135,"y":2.5},{"s":"OS0_1000","x":140,"y":2.3},{"s":"OS0_1000","x":145,"y":2.08},{"s":"OS0_1000","x":150,"y":1.85},{"s":"OS0_1000","x":155,"y":1.65},{"s":"OS0_1000","x":160,"y":1.45},{"s":"OS0_1000","x":165,"y":1.25},{"s":"OS0_1000","x":170,"y":1.1},{"s":"OS0_1000","x":175,"y":1.0},{"s":"OS0_1000","x":180,"y":0.92},{"s":"OS0_1000","x":185,"y":0.88},{"s":"OS0_1000","x":190,"y":0.87},{"s":"OS0_1000","x":195,"y":0.9},{"s":"OS0_1000","x":200,"y":0.95},{"s":"OS0_1000","x":210,"y":1.1},{"s":"OS0_1000","x":220,"y":1.3},{"s":"OS0_1000","x":230,"y":1.5},{"s":"OS0_1000","x":240,"y":1.62},{"s":"OS0_1000","x":250,"y":1.68},{"s":"OS0_1000","x":260,"y":1.65},{"s":"OS0_1000","x":270,"y":1.7},{"s":"OS0_1000","x":280,"y":1.75},{"s":"OS0_1000","x":290,"y":1.8},{"s":"OS0_1000","x":300,"y":1.85},{"s":"OS0_1000","x":310,"y":1.88},{"s":"OS0_1000","x":320,"y":1.85},{"s":"OS0_1000","x":330,"y":1.82},{"s":"OS0_1000","x":340,"y":1.8},{"s":"OS0_1000","x":350,"y":1.78},{"s":"OS0_1000","x":360,"y":1.8},{"s":"OS0_1000","x":370,"y":1.75},{"s":"OS0_1000","x":380,"y":1.75},{"s":"OS0_1000","x":390,"y":1.77},{"s":"OS0_1000","x":400,"y":1.78},
{"s":"OS100_250","x":200,"y":1.55},{"s":"OS100_250","x":210,"y":1.58},{"s":"OS100_250","x":220,"y":1.6},{"s":"OS100_250","x":230,"y":1.62},{"s":"OS100_250","x":240,"y":1.62},{"s":"OS100_250","x":250,"y":1.6},{"s":"OS100_250","x":260,"y":1.6},{"s":"OS100_250","x":270,"y":1.58},{"s":"OS100_250","x":280,"y":1.55},{"s":"OS100_250","x":290,"y":1.6},{"s":"OS100_250","x":300,"y":1.68},{"s":"OS100_250","x":310,"y":1.72},{"s":"OS100_250","x":320,"y":1.78},{"s":"OS100_250","x":330,"y":1.8},{"s":"OS100_250","x":340,"y":1.78},{"s":"OS100_250","x":350,"y":1.78},{"s":"OS100_250","x":360,"y":1.75},{"s":"OS100_250","x":370,"y":1.72},{"s":"OS100_250","x":380,"y":1.75},{"s":"OS100_250","x":390,"y":1.75},{"s":"OS100_250","x":400,"y":1.78},
{"s":"OS100_500","x":200,"y":1.8},{"s":"OS100_500","x":210,"y":1.82},{"s":"OS100_500","x":220,"y":1.9},{"s":"OS100_500","x":225,"y":1.88},{"s":"OS100_500","x":230,"y":1.88},{"s":"OS100_500","x":240,"y":1.85},{"s":"OS100_500","x":250,"y":1.75},{"s":"OS100_500","x":260,"y":1.62},{"s":"OS100_500","x":270,"y":1.6},{"s":"OS100_500","x":280,"y":1.55},{"s":"OS100_500","x":290,"y":1.6},{"s":"OS100_500","x":300,"y":1.7},{"s":"OS100_500","x":310,"y":1.72},{"s":"OS100_500","x":320,"y":1.75},{"s":"OS100_500","x":330,"y":1.72},{"s":"OS100_500","x":340,"y":1.7},{"s":"OS100_500","x":350,"y":1.65},{"s":"OS100_500","x":360,"y":1.62},{"s":"OS100_500","x":370,"y":1.6},{"s":"OS100_500","x":380,"y":1.62},{"s":"OS100_500","x":390,"y":1.65},{"s":"OS100_500","x":400,"y":1.6},
{"s":"OS100_1000","x":200,"y":2.68},{"s":"OS100_1000","x":210,"y":2.65},{"s":"OS100_1000","x":220,"y":2.62},{"s":"OS100_1000","x":230,"y":2.55},{"s":"OS100_1000","x":235,"y":2.45},{"s":"OS100_1000","x":240,"y":2.3},{"s":"OS100_1000","x":245,"y":2.15},{"s":"OS100_1000","x":250,"y":1.95},{"s":"OS100_1000","x":255,"y":1.78},{"s":"OS100_1000","x":260,"y":1.6},{"s":"OS100_1000","x":265,"y":1.4},{"s":"OS100_1000","x":270,"y":1.2},{"s":"OS100_1000","x":275,"y":1.1},{"s":"OS100_1000","x":280,"y":1.12},{"s":"OS100_1000","x":285,"y":1.2},{"s":"OS100_1000","x":290,"y":1.3},{"s":"OS100_1000","x":300,"y":1.45},{"s":"OS100_1000","x":310,"y":1.65},{"s":"OS100_1000","x":320,"y":1.8},{"s":"OS100_1000","x":330,"y":1.88},{"s":"OS100_1000","x":340,"y":1.9},{"s":"OS100_1000","x":350,"y":2.0},{"s":"OS100_1000","x":360,"y":2.0},{"s":"OS100_1000","x":370,"y":2.02},{"s":"OS100_1000","x":380,"y":1.98},{"s":"OS100_1000","x":390,"y":1.96},{"s":"OS100_1000","x":400,"y":1.97}
],
"satband": [
{"s":"B1500","x":0,"lo":-0.07,"hi":0.17},{"s":"B1500","x":10,"lo":-0.04,"hi":0.2},{"s":"B1500","x":20,"lo":0.03,"hi":0.27},{"s":"B1500","x":30,"lo":0.26,"hi":0.5},{"s":"B1500","x":40,"lo":0.73,"hi":0.97},{"s":"B1500","x":50,"lo":1.23,"hi":1.47},{"s":"B1500","x":60,"lo":1.58,"hi":1.82},{"s":"B1500","x":70,"lo":1.73,"hi":1.97},{"s":"B1500","x":80,"lo":1.7,"hi":1.94},{"s":"B1500","x":90,"lo":1.63,"hi":1.87},{"s":"B1500","x":100,"lo":1.5,"hi":1.74},{"s":"B1500","x":110,"lo":1.43,"hi":1.67},{"s":"B1500","x":120,"lo":1.36,"hi":1.6},{"s":"B1500","x":130,"lo":1.3,"hi":1.54},{"s":"B1500","x":140,"lo":1.26,"hi":1.5},{"s":"B1500","x":150,"lo":1.2,"hi":1.44},{"s":"B1500","x":160,"lo":1.23,"hi":1.47},{"s":"B1500","x":170,"lo":1.18,"hi":1.42},{"s":"B1500","x":180,"lo":1.16,"hi":1.4},{"s":"B1500","x":190,"lo":1.18,"hi":1.42},{"s":"B1500","x":200,"lo":1.23,"hi":1.47},{"s":"B1500","x":210,"lo":1.38,"hi":1.62},{"s":"B1500","x":220,"lo":1.5,"hi":1.74},{"s":"B1500","x":230,"lo":1.6,"hi":1.84},{"s":"B1500","x":240,"lo":1.58,"hi":1.82},{"s":"B1500","x":250,"lo":1.6,"hi":1.84},{"s":"B1500","x":260,"lo":1.58,"hi":1.82},{"s":"B1500","x":270,"lo":1.56,"hi":1.8},{"s":"B1500","x":280,"lo":1.6,"hi":1.84},{"s":"B1500","x":290,"lo":1.68,"hi":1.92},{"s":"B1500","x":300,"lo":1.63,"hi":1.87},{"s":"B1500","x":310,"lo":1.56,"hi":1.8},{"s":"B1500","x":320,"lo":1.53,"hi":1.77},{"s":"B1500","x":330,"lo":1.58,"hi":1.82},{"s":"B1500","x":340,"lo":1.5,"hi":1.74},{"s":"B1500","x":350,"lo":1.53,"hi":1.77},{"s":"B1500","x":360,"lo":1.5,"hi":1.74},{"s":"B1500","x":370,"lo":1.56,"hi":1.8},{"s":"B1500","x":380,"lo":1.53,"hi":1.77},{"s":"B1500","x":390,"lo":1.58,"hi":1.82},{"s":"B1500","x":400,"lo":1.58,"hi":1.82},
{"s":"B1750","x":0,"lo":-0.02,"hi":0.18},{"s":"B1750","x":10,"lo":0,"hi":0.2},{"s":"B1750","x":20,"lo":0.07,"hi":0.27},{"s":"B1750","x":30,"lo":0.32,"hi":0.52},{"s":"B1750","x":40,"lo":0.85,"hi":1.05},{"s":"B1750","x":50,"lo":1.45,"hi":1.65},{"s":"B1750","x":60,"lo":1.85,"hi":2.05},{"s":"B1750","x":70,"lo":2.08,"hi":2.28},{"s":"B1750","x":80,"lo":2.05,"hi":2.25},{"s":"B1750","x":90,"lo":1.95,"hi":2.15},{"s":"B1750","x":100,"lo":1.85,"hi":2.05},{"s":"B1750","x":110,"lo":1.75,"hi":1.95},{"s":"B1750","x":120,"lo":1.65,"hi":1.85},{"s":"B1750","x":130,"lo":1.6,"hi":1.8},{"s":"B1750","x":140,"lo":1.55,"hi":1.75},{"s":"B1750","x":150,"lo":1.5,"hi":1.7},{"s":"B1750","x":160,"lo":1.45,"hi":1.65},{"s":"B1750","x":170,"lo":1.45,"hi":1.65},{"s":"B1750","x":180,"lo":1.42,"hi":1.62},{"s":"B1750","x":190,"lo":1.45,"hi":1.65},{"s":"B1750","x":200,"lo":1.45,"hi":1.65},{"s":"B1750","x":210,"lo":1.48,"hi":1.68},{"s":"B1750","x":220,"lo":1.52,"hi":1.72},{"s":"B1750","x":230,"lo":1.58,"hi":1.78},{"s":"B1750","x":240,"lo":1.68,"hi":1.88},{"s":"B1750","x":250,"lo":1.8,"hi":2.0},{"s":"B1750","x":260,"lo":1.9,"hi":2.1},{"s":"B1750","x":270,"lo":1.97,"hi":2.17},{"s":"B1750","x":280,"lo":2.0,"hi":2.2},{"s":"B1750","x":290,"lo":2.02,"hi":2.22},{"s":"B1750","x":300,"lo":2.05,"hi":2.25},{"s":"B1750","x":310,"lo":2.03,"hi":2.23},{"s":"B1750","x":320,"lo":2.05,"hi":2.25},{"s":"B1750","x":330,"lo":2.02,"hi":2.22},{"s":"B1750","x":340,"lo":2.0,"hi":2.2},{"s":"B1750","x":350,"lo":2.0,"hi":2.2},{"s":"B1750","x":360,"lo":1.98,"hi":2.18},{"s":"B1750","x":370,"lo":2.02,"hi":2.22},{"s":"B1750","x":380,"lo":2.05,"hi":2.25},{"s":"B1750","x":390,"lo":2.02,"hi":2.22},{"s":"B1750","x":400,"lo":1.98,"hi":2.18},
{"s":"B2500","x":0,"lo":0,"hi":0.2},{"s":"B2500","x":10,"lo":0.02,"hi":0.22},{"s":"B2500","x":20,"lo":0.1,"hi":0.3},{"s":"B2500","x":30,"lo":0.38,"hi":0.62},{"s":"B2500","x":40,"lo":0.93,"hi":1.17},{"s":"B2500","x":50,"lo":1.73,"hi":1.97},{"s":"B2500","x":60,"lo":2.43,"hi":2.67},{"s":"B2500","x":70,"lo":2.78,"hi":3.02},{"s":"B2500","x":80,"lo":2.88,"hi":3.12},{"s":"B2500","x":90,"lo":2.85,"hi":3.09},{"s":"B2500","x":100,"lo":2.8,"hi":3.04},{"s":"B2500","x":110,"lo":2.83,"hi":3.07},{"s":"B2500","x":120,"lo":2.76,"hi":3.0},{"s":"B2500","x":130,"lo":2.7,"hi":2.94},{"s":"B2500","x":140,"lo":2.66,"hi":2.9},{"s":"B2500","x":150,"lo":2.6,"hi":2.84},{"s":"B2500","x":160,"lo":2.61,"hi":2.85},{"s":"B2500","x":170,"lo":2.58,"hi":2.82},{"s":"B2500","x":180,"lo":2.58,"hi":2.82},{"s":"B2500","x":190,"lo":2.55,"hi":2.79},{"s":"B2500","x":200,"lo":2.58,"hi":2.82},{"s":"B2500","x":210,"lo":2.58,"hi":2.82},{"s":"B2500","x":220,"lo":2.56,"hi":2.8},{"s":"B2500","x":230,"lo":2.55,"hi":2.79},{"s":"B2500","x":240,"lo":2.54,"hi":2.78},{"s":"B2500","x":250,"lo":2.51,"hi":2.75},{"s":"B2500","x":260,"lo":2.58,"hi":2.82},{"s":"B2500","x":270,"lo":2.63,"hi":2.87},{"s":"B2500","x":280,"lo":2.68,"hi":2.92},{"s":"B2500","x":290,"lo":2.68,"hi":2.92},{"s":"B2500","x":300,"lo":2.73,"hi":2.97},{"s":"B2500","x":310,"lo":2.83,"hi":3.07},{"s":"B2500","x":320,"lo":2.93,"hi":3.17},{"s":"B2500","x":330,"lo":2.98,"hi":3.22},{"s":"B2500","x":340,"lo":3.03,"hi":3.27},{"s":"B2500","x":350,"lo":3.1,"hi":3.34},{"s":"B2500","x":360,"lo":3.16,"hi":3.4},{"s":"B2500","x":370,"lo":3.18,"hi":3.42},{"s":"B2500","x":380,"lo":3.25,"hi":3.49},{"s":"B2500","x":390,"lo":3.26,"hi":3.5},{"s":"B2500","x":400,"lo":3.23,"hi":3.47}
],
"zec": [
{"s":"B1500","x":72,"y":0.15},{"s":"B1500","x":76,"y":0.2},{"s":"B1500","x":80,"y":0.22},{"s":"B1500","x":85,"y":0.21},{"s":"B1500","x":90,"y":0.18},{"s":"B1500","x":95,"y":0.1},{"s":"B1500","x":100,"y":0},{"s":"B1500","x":105,"y":-0.02},{"s":"B1500","x":110,"y":-0.05},{"s":"B1500","x":115,"y":-0.1},{"s":"B1500","x":120,"y":-0.18},{"s":"B1500","x":125,"y":-0.22},{"s":"B1500","x":130,"y":-0.25},{"s":"B1500","x":135,"y":-0.22},{"s":"B1500","x":140,"y":-0.3},{"s":"B1500","x":145,"y":-0.3},{"s":"B1500","x":150,"y":-0.33},{"s":"B1500","x":155,"y":-0.32},{"s":"B1500","x":160,"y":-0.35},{"s":"B1500","x":165,"y":-0.3},{"s":"B1500","x":170,"y":-0.3},{"s":"B1500","x":175,"y":-0.25},{"s":"B1500","x":180,"y":-0.27},{"s":"B1500","x":185,"y":-0.32},{"s":"B1500","x":190,"y":-0.33},{"s":"B1500","x":195,"y":-0.3},{"s":"B1500","x":200,"y":-0.2},{"s":"B1500","x":205,"y":-0.1},{"s":"B1500","x":210,"y":-0.05},{"s":"B1500","x":215,"y":0},{"s":"B1500","x":220,"y":0.07},{"s":"B1500","x":225,"y":0.03},{"s":"B1500","x":230,"y":0.02},{"s":"B1500","x":235,"y":0.06},{"s":"B1500","x":240,"y":0.08},{"s":"B1500","x":245,"y":0.09},{"s":"B1500","x":250,"y":0.12},{"s":"B1500","x":255,"y":0.15},{"s":"B1500","x":258,"y":0.16},{"s":"B1500","x":262,"y":0.13},{"s":"B1500","x":266,"y":0.11},{"s":"B1500","x":270,"y":0.1},{"s":"B1500","x":275,"y":0.08},{"s":"B1500","x":280,"y":0.08},{"s":"B1500","x":285,"y":0.1},{"s":"B1500","x":290,"y":0.1},{"s":"B1500","x":295,"y":0.1},{"s":"B1500","x":300,"y":0.08},{"s":"B1500","x":305,"y":0.06},{"s":"B1500","x":310,"y":0.05},{"s":"B1500","x":315,"y":0.03},{"s":"B1500","x":320,"y":0.02},{"s":"B1500","x":325,"y":0},{"s":"B1500","x":330,"y":-0.02},{"s":"B1500","x":335,"y":-0.01},{"s":"B1500","x":340,"y":0},{"s":"B1500","x":345,"y":0},{"s":"B1500","x":350,"y":0.01},{"s":"B1500","x":355,"y":0.03},{"s":"B1500","x":360,"y":0.05},{"s":"B1500","x":365,"y":0.04},{"s":"B1500","x":370,"y":0.06},{"s":"B1500","x":375,"y":0.06},{"s":"B1500","x":380,"y":0.08},{"s":"B1500","x":385,"y":0.1},{"s":"B1500","x":390,"y":0.08},{"s":"B1500","x":395,"y":0.07},{"s":"B1500","x":400,"y":0.05},
{"s":"B1750","x":72,"y":0.15},{"s":"B1750","x":76,"y":0.2},{"s":"B1750","x":80,"y":0.23},{"s":"B1750","x":85,"y":0.18},{"s":"B1750","x":90,"y":0.15},{"s":"B1750","x":95,"y":0.05},{"s":"B1750","x":100,"y":0},{"s":"B1750","x":105,"y":-0.02},{"s":"B1750","x":110,"y":-0.05},{"s":"B1750","x":115,"y":-0.12},{"s":"B1750","x":120,"y":-0.17},{"s":"B1750","x":125,"y":-0.2},{"s":"B1750","x":130,"y":-0.22},{"s":"B1750","x":135,"y":-0.28},{"s":"B1750","x":140,"y":-0.32},{"s":"B1750","x":145,"y":-0.3},{"s":"B1750","x":150,"y":-0.34},{"s":"B1750","x":155,"y":-0.35},{"s":"B1750","x":160,"y":-0.38},{"s":"B1750","x":165,"y":-0.4},{"s":"B1750","x":170,"y":-0.42},{"s":"B1750","x":175,"y":-0.4},{"s":"B1750","x":180,"y":-0.4},{"s":"B1750","x":185,"y":-0.4},{"s":"B1750","x":190,"y":-0.38},{"s":"B1750","x":195,"y":-0.42},{"s":"B1750","x":200,"y":-0.4},{"s":"B1750","x":205,"y":-0.37},{"s":"B1750","x":210,"y":-0.35},{"s":"B1750","x":215,"y":-0.32},{"s":"B1750","x":220,"y":-0.3},{"s":"B1750","x":225,"y":-0.28},{"s":"B1750","x":230,"y":-0.25},{"s":"B1750","x":235,"y":-0.23},{"s":"B1750","x":240,"y":-0.2},{"s":"B1750","x":245,"y":-0.15},{"s":"B1750","x":250,"y":-0.1},{"s":"B1750","x":255,"y":-0.02},{"s":"B1750","x":260,"y":0.02},{"s":"B1750","x":265,"y":0.1},{"s":"B1750","x":270,"y":0.15},{"s":"B1750","x":275,"y":0.18},{"s":"B1750","x":280,"y":0.17},{"s":"B1750","x":285,"y":0.17},{"s":"B1750","x":290,"y":0.15},{"s":"B1750","x":295,"y":0.17},{"s":"B1750","x":300,"y":0.17},{"s":"B1750","x":305,"y":0.15},{"s":"B1750","x":310,"y":0.15},{"s":"B1750","x":315,"y":0.18},{"s":"B1750","x":320,"y":0.21},{"s":"B1750","x":325,"y":0.13},{"s":"B1750","x":330,"y":0.12},{"s":"B1750","x":335,"y":0.13},{"s":"B1750","x":340,"y":0.13},{"s":"B1750","x":345,"y":0.1},{"s":"B1750","x":350,"y":0.08},{"s":"B1750","x":355,"y":0.1},{"s":"B1750","x":360,"y":0.08},{"s":"B1750","x":365,"y":0.1},{"s":"B1750","x":370,"y":0.12},{"s":"B1750","x":375,"y":0.13},{"s":"B1750","x":380,"y":0.15},{"s":"B1750","x":385,"y":0.17},{"s":"B1750","x":390,"y":0.15},{"s":"B1750","x":395,"y":0.13},{"s":"B1750","x":400,"y":0.12},
{"s":"B2000","x":72,"y":0.18},{"s":"B2000","x":76,"y":0.22},{"s":"B2000","x":80,"y":0.23},{"s":"B2000","x":85,"y":0.15},{"s":"B2000","x":90,"y":0.08},{"s":"B2000","x":95,"y":0.03},{"s":"B2000","x":100,"y":0.02},{"s":"B2000","x":105,"y":0},{"s":"B2000","x":110,"y":-0.05},{"s":"B2000","x":115,"y":-0.15},{"s":"B2000","x":120,"y":-0.22},{"s":"B2000","x":125,"y":-0.2},{"s":"B2000","x":130,"y":-0.18},{"s":"B2000","x":135,"y":-0.23},{"s":"B2000","x":140,"y":-0.27},{"s":"B2000","x":145,"y":-0.25},{"s":"B2000","x":150,"y":-0.28},{"s":"B2000","x":155,"y":-0.3},{"s":"B2000","x":160,"y":-0.28},{"s":"B2000","x":165,"y":-0.32},{"s":"B2000","x":170,"y":-0.38},{"s":"B2000","x":175,"y":-0.32},{"s":"B2000","x":180,"y":-0.3},{"s":"B2000","x":185,"y":-0.33},{"s":"B2000","x":190,"y":-0.35},{"s":"B2000","x":195,"y":-0.3},{"s":"B2000","x":200,"y":-0.28},{"s":"B2000","x":205,"y":-0.27},{"s":"B2000","x":210,"y":-0.25},{"s":"B2000","x":215,"y":-0.24},{"s":"B2000","x":220,"y":-0.22},{"s":"B2000","x":225,"y":-0.2},{"s":"B2000","x":230,"y":-0.18},{"s":"B2000","x":235,"y":-0.15},{"s":"B2000","x":240,"y":-0.12},{"s":"B2000","x":245,"y":-0.08},{"s":"B2000","x":250,"y":-0.05},{"s":"B2000","x":255,"y":0.02},{"s":"B2000","x":260,"y":0.15},{"s":"B2000","x":265,"y":0.27},{"s":"B2000","x":270,"y":0.33},{"s":"B2000","x":273,"y":0.35},{"s":"B2000","x":276,"y":0.28},{"s":"B2000","x":280,"y":0.25},{"s":"B2000","x":285,"y":0.35},{"s":"B2000","x":290,"y":0.48},{"s":"B2000","x":295,"y":0.45},{"s":"B2000","x":300,"y":0.4},{"s":"B2000","x":305,"y":0.43},{"s":"B2000","x":310,"y":0.45},{"s":"B2000","x":315,"y":0.4},{"s":"B2000","x":320,"y":0.37},{"s":"B2000","x":325,"y":0.36},{"s":"B2000","x":330,"y":0.38},{"s":"B2000","x":335,"y":0.35},{"s":"B2000","x":340,"y":0.34},{"s":"B2000","x":345,"y":0.3},{"s":"B2000","x":350,"y":0.28},{"s":"B2000","x":355,"y":0.29},{"s":"B2000","x":360,"y":0.3},{"s":"B2000","x":365,"y":0.31},{"s":"B2000","x":370,"y":0.33},{"s":"B2000","x":375,"y":0.33},{"s":"B2000","x":380,"y":0.35},{"s":"B2000","x":385,"y":0.37},{"s":"B2000","x":388,"y":0.39},{"s":"B2000","x":391,"y":0.3},{"s":"B2000","x":395,"y":0.27},{"s":"B2000","x":400,"y":0.28},
{"s":"B2500","x":72,"y":-0.05},{"s":"B2500","x":75,"y":0.05},{"s":"B2500","x":78,"y":0.08},{"s":"B2500","x":82,"y":0.09},{"s":"B2500","x":86,"y":0.07},{"s":"B2500","x":90,"y":0.07},{"s":"B2500","x":95,"y":0.05},{"s":"B2500","x":100,"y":0.02},{"s":"B2500","x":105,"y":0.03},{"s":"B2500","x":108,"y":0.05},{"s":"B2500","x":112,"y":0.03},{"s":"B2500","x":115,"y":0},{"s":"B2500","x":120,"y":-0.03},{"s":"B2500","x":125,"y":-0.04},{"s":"B2500","x":130,"y":-0.07},{"s":"B2500","x":135,"y":-0.06},{"s":"B2500","x":140,"y":-0.12},{"s":"B2500","x":145,"y":-0.15},{"s":"B2500","x":150,"y":-0.18},{"s":"B2500","x":155,"y":-0.2},{"s":"B2500","x":160,"y":-0.21},{"s":"B2500","x":165,"y":-0.2},{"s":"B2500","x":170,"y":-0.21},{"s":"B2500","x":175,"y":-0.23},{"s":"B2500","x":180,"y":-0.23},{"s":"B2500","x":185,"y":-0.25},{"s":"B2500","x":190,"y":-0.26},{"s":"B2500","x":195,"y":-0.23},{"s":"B2500","x":200,"y":-0.22},{"s":"B2500","x":205,"y":-0.22},{"s":"B2500","x":210,"y":-0.24},{"s":"B2500","x":215,"y":-0.24},{"s":"B2500","x":220,"y":-0.25},{"s":"B2500","x":225,"y":-0.25},{"s":"B2500","x":230,"y":-0.24},{"s":"B2500","x":235,"y":-0.26},{"s":"B2500","x":240,"y":-0.26},{"s":"B2500","x":245,"y":-0.27},{"s":"B2500","x":250,"y":-0.28},{"s":"B2500","x":253,"y":-0.29},{"s":"B2500","x":256,"y":-0.26},{"s":"B2500","x":260,"y":-0.22},{"s":"B2500","x":265,"y":-0.2},{"s":"B2500","x":270,"y":-0.17},{"s":"B2500","x":275,"y":-0.16},{"s":"B2500","x":280,"y":-0.15},{"s":"B2500","x":285,"y":-0.13},{"s":"B2500","x":290,"y":-0.11},{"s":"B2500","x":295,"y":-0.1},{"s":"B2500","x":300,"y":-0.1},{"s":"B2500","x":305,"y":-0.02},{"s":"B2500","x":310,"y":0.05},{"s":"B2500","x":315,"y":0.08},{"s":"B2500","x":320,"y":0.1},{"s":"B2500","x":325,"y":0.13},{"s":"B2500","x":330,"y":0.14},{"s":"B2500","x":335,"y":0.14},{"s":"B2500","x":340,"y":0.15},{"s":"B2500","x":345,"y":0.18},{"s":"B2500","x":350,"y":0.22},{"s":"B2500","x":355,"y":0.27},{"s":"B2500","x":360,"y":0.3},{"s":"B2500","x":365,"y":0.32},{"s":"B2500","x":370,"y":0.33},{"s":"B2500","x":375,"y":0.37},{"s":"B2500","x":380,"y":0.42},{"s":"B2500","x":385,"y":0.46},{"s":"B2500","x":388,"y":0.49},{"s":"B2500","x":392,"y":0.47},{"s":"B2500","x":396,"y":0.46},{"s":"B2500","x":400,"y":0.44}
],
"amoc": [
{"s":"CTRL","x":0,"y":23.5},{"s":"CTRL","x":10,"y":23},{"s":"CTRL","x":20,"y":23.3},{"s":"CTRL","x":30,"y":23.5},{"s":"CTRL","x":40,"y":22.5},{"s":"CTRL","x":50,"y":22},{"s":"CTRL","x":60,"y":22.5},{"s":"CTRL","x":70,"y":22},{"s":"CTRL","x":80,"y":22.2},{"s":"CTRL","x":90,"y":22},{"s":"CTRL","x":100,"y":23},{"s":"CTRL","x":110,"y":22.3},{"s":"CTRL","x":120,"y":22.8},{"s":"CTRL","x":130,"y":22.3},{"s":"CTRL","x":140,"y":22.8},{"s":"CTRL","x":150,"y":22.5},{"s":"CTRL","x":160,"y":23.8},{"s":"CTRL","x":170,"y":22.2},{"s":"CTRL","x":180,"y":23},{"s":"CTRL","x":190,"y":22},{"s":"CTRL","x":200,"y":22.5},{"s":"CTRL","x":210,"y":23.8},{"s":"CTRL","x":220,"y":22.3},{"s":"CTRL","x":230,"y":22.8},{"s":"CTRL","x":240,"y":23.1},{"s":"CTRL","x":250,"y":22.8},{"s":"CTRL","x":260,"y":23.2},{"s":"CTRL","x":265,"y":24.5},{"s":"CTRL","x":270,"y":24.3},{"s":"CTRL","x":280,"y":22.8},{"s":"CTRL","x":290,"y":22},{"s":"CTRL","x":300,"y":22.5},{"s":"CTRL","x":310,"y":22.8},{"s":"CTRL","x":320,"y":24},{"s":"CTRL","x":330,"y":22.5},{"s":"CTRL","x":340,"y":22.8},{"s":"CTRL","x":350,"y":23},{"s":"CTRL","x":360,"y":22.5},{"s":"CTRL","x":370,"y":23.5},{"s":"CTRL","x":380,"y":23},{"s":"CTRL","x":390,"y":22},{"s":"CTRL","x":400,"y":23.5},
{"s":"B1500","x":0,"y":23},{"s":"B1500","x":10,"y":22.8},{"s":"B1500","x":20,"y":22.5},{"s":"B1500","x":30,"y":22.5},{"s":"B1500","x":40,"y":21.5},{"s":"B1500","x":50,"y":19.5},{"s":"B1500","x":60,"y":17.5},{"s":"B1500","x":70,"y":15.5},{"s":"B1500","x":80,"y":13.8},{"s":"B1500","x":90,"y":12.5},{"s":"B1500","x":100,"y":12},{"s":"B1500","x":110,"y":11.8},{"s":"B1500","x":120,"y":12.5},{"s":"B1500","x":130,"y":12.2},{"s":"B1500","x":140,"y":13.5},{"s":"B1500","x":150,"y":14},{"s":"B1500","x":160,"y":14.5},{"s":"B1500","x":170,"y":15.5},{"s":"B1500","x":180,"y":16},{"s":"B1500","x":190,"y":16.5},{"s":"B1500","x":200,"y":17},{"s":"B1500","x":210,"y":18},{"s":"B1500","x":220,"y":19},{"s":"B1500","x":230,"y":20},{"s":"B1500","x":240,"y":20.5},{"s":"B1500","x":250,"y":21},{"s":"B1500","x":260,"y":20.8},{"s":"B1500","x":270,"y":20.5},{"s":"B1500","x":280,"y":21},{"s":"B1500","x":290,"y":20.5},{"s":"B1500","x":300,"y":20.3},{"s":"B1500","x":310,"y":20},{"s":"B1500","x":320,"y":20.2},{"s":"B1500","x":330,"y":20},{"s":"B1500","x":340,"y":19.5},{"s":"B1500","x":350,"y":19.5},{"s":"B1500","x":360,"y":20},{"s":"B1500","x":370,"y":19.8},{"s":"B1500","x":380,"y":20},{"s":"B1500","x":390,"y":19.8},{"s":"B1500","x":400,"y":19.8},
{"s":"B1750","x":0,"y":23},{"s":"B1750","x":10,"y":22.8},{"s":"B1750","x":20,"y":22.5},{"s":"B1750","x":30,"y":22.3},{"s":"B1750","x":40,"y":21},{"s":"B1750","x":50,"y":18.5},{"s":"B1750","x":60,"y":16},{"s":"B1750","x":70,"y":13.5},{"s":"B1750","x":80,"y":11.5},{"s":"B1750","x":90,"y":10},{"s":"B1750","x":100,"y":9.5},{"s":"B1750","x":110,"y":9.3},{"s":"B1750","x":120,"y":9.4},{"s":"B1750","x":130,"y":9.4},{"s":"B1750","x":140,"y":9.8},{"s":"B1750","x":150,"y":9.6},{"s":"B1750","x":160,"y":10.5},{"s":"B1750","x":170,"y":11.8},{"s":"B1750","x":180,"y":13},{"s":"B1750","x":190,"y":14},{"s":"B1750","x":200,"y":14.8},{"s":"B1750","x":210,"y":15.5},{"s":"B1750","x":220,"y":16.5},{"s":"B1750","x":230,"y":17.5},{"s":"B1750","x":240,"y":18.3},{"s":"B1750","x":250,"y":19},{"s":"B1750","x":260,"y":19.7},{"s":"B1750","x":270,"y":20.3},{"s":"B1750","x":280,"y":20.7},{"s":"B1750","x":290,"y":20.8},{"s":"B1750","x":300,"y":20.5},{"s":"B1750","x":310,"y":20.5},{"s":"B1750","x":320,"y":20.3},{"s":"B1750","x":330,"y":20},{"s":"B1750","x":340,"y":20},{"s":"B1750","x":350,"y":19.8},{"s":"B1750","x":360,"y":19.8},{"s":"B1750","x":370,"y":19.5},{"s":"B1750","x":380,"y":19.5},{"s":"B1750","x":390,"y":19.5},{"s":"B1750","x":400,"y":19.5},
{"s":"B2000","x":0,"y":23},{"s":"B2000","x":10,"y":22.8},{"s":"B2000","x":20,"y":22.5},{"s":"B2000","x":30,"y":23},{"s":"B2000","x":35,"y":22.8},{"s":"B2000","x":40,"y":21},{"s":"B2000","x":50,"y":18},{"s":"B2000","x":60,"y":15},{"s":"B2000","x":70,"y":12},{"s":"B2000","x":80,"y":9.5},{"s":"B2000","x":90,"y":8},{"s":"B2000","x":100,"y":7.3},{"s":"B2000","x":110,"y":7.1},{"s":"B2000","x":120,"y":7},{"s":"B2000","x":130,"y":7.3},{"s":"B2000","x":140,"y":7.6},{"s":"B2000","x":150,"y":7.8},{"s":"B2000","x":160,"y":8.2},{"s":"B2000","x":170,"y":9.2},{"s":"B2000","x":180,"y":10},{"s":"B2000","x":190,"y":11},{"s":"B2000","x":200,"y":11.8},{"s":"B2000","x":210,"y":13},{"s":"B2000","x":220,"y":14},{"s":"B2000","x":230,"y":15.2},{"s":"B2000","x":240,"y":16},{"s":"B2000","x":250,"y":17.5},{"s":"B2000","x":260,"y":18.5},{"s":"B2000","x":270,"y":19.5},{"s":"B2000","x":280,"y":20.3},{"s":"B2000","x":290,"y":20.8},{"s":"B2000","x":300,"y":21},{"s":"B2000","x":310,"y":20.5},{"s":"B2000","x":320,"y":20},{"s":"B2000","x":330,"y":20},{"s":"B2000","x":340,"y":19.8},{"s":"B2000","x":350,"y":19.5},{"s":"B2000","x":360,"y":19.5},{"s":"B2000","x":370,"y":19.3},{"s":"B2000","x":380,"y":19},{"s":"B2000","x":390,"y":19},{"s":"B2000","x":400,"y":18.8},
{"s":"B2500","x":0,"y":23.5},{"s":"B2500","x":10,"y":23},{"s":"B2500","x":20,"y":22.5},{"s":"B2500","x":30,"y":22},{"s":"B2500","x":40,"y":20.5},{"s":"B2500","x":50,"y":17},{"s":"B2500","x":60,"y":13.5},{"s":"B2500","x":70,"y":10},{"s":"B2500","x":80,"y":7.5},{"s":"B2500","x":90,"y":6},{"s":"B2500","x":100,"y":5.5},{"s":"B2500","x":110,"y":5.6},{"s":"B2500","x":120,"y":5.8},{"s":"B2500","x":130,"y":6},{"s":"B2500","x":140,"y":6.2},{"s":"B2500","x":150,"y":6.3},{"s":"B2500","x":160,"y":6.5},{"s":"B2500","x":170,"y":6.6},{"s":"B2500","x":180,"y":7},{"s":"B2500","x":190,"y":7.3},{"s":"B2500","x":200,"y":7.3},{"s":"B2500","x":210,"y":7.8},{"s":"B2500","x":220,"y":8.2},{"s":"B2500","x":230,"y":8.8},{"s":"B2500","x":240,"y":9.6},{"s":"B2500","x":250,"y":10.2},{"s":"B2500","x":260,"y":10.6},{"s":"B2500","x":270,"y":11},{"s":"B2500","x":280,"y":12},{"s":"B2500","x":290,"y":13.5},{"s":"B2500","x":300,"y":14.5},{"s":"B2500","x":310,"y":15.2},{"s":"B2500","x":320,"y":15.8},{"s":"B2500","x":330,"y":16.5},{"s":"B2500","x":340,"y":17.2},{"s":"B2500","x":350,"y":17.8},{"s":"B2500","x":360,"y":18.2},{"s":"B2500","x":370,"y":18.8},{"s":"B2500","x":380,"y":19},{"s":"B2500","x":390,"y":19.2},{"s":"B2500","x":400,"y":18.7},
{"s":"OS0_250","x":100,"y":9.4},{"s":"OS0_250","x":105,"y":9.3},{"s":"OS0_250","x":110,"y":9.3},{"s":"OS0_250","x":115,"y":9.2},{"s":"OS0_250","x":120,"y":9},{"s":"OS0_250","x":125,"y":9.4},{"s":"OS0_250","x":130,"y":9.5},{"s":"OS0_250","x":135,"y":9.3},{"s":"OS0_250","x":140,"y":9.6},{"s":"OS0_250","x":145,"y":10},{"s":"OS0_250","x":150,"y":10.5},{"s":"OS0_250","x":155,"y":11.2},{"s":"OS0_250","x":160,"y":12},{"s":"OS0_250","x":165,"y":12.8},{"s":"OS0_250","x":170,"y":13.5},{"s":"OS0_250","x":175,"y":14.2},{"s":"OS0_250","x":180,"y":15},{"s":"OS0_250","x":185,"y":15.3},{"s":"OS0_250","x":190,"y":15.5},{"s":"OS0_250","x":195,"y":15.7},{"s":"OS0_250","x":200,"y":15.9},{"s":"OS0_250","x":210,"y":16.5},{"s":"OS0_250","x":220,"y":17.5},{"s":"OS0_250","x":230,"y":18.8},{"s":"OS0_250","x":240,"y":20.2},{"s":"OS0_250","x":250,"y":21},{"s":"OS0_250","x":260,"y":21.5},{"s":"OS0_250","x":270,"y":21.8},{"s":"OS0_250","x":280,"y":21.6},{"s":"OS0_250","x":290,"y":21},{"s":"OS0_250","x":300,"y":21.2},{"s":"OS0_250","x":310,"y":20.8},{"s":"OS0_250","x":320,"y":20.4},{"s":"OS0_250","x":330,"y":20.2},{"s":"OS0_250","x":340,"y":20},{"s":"OS0_250","x":350,"y":20},{"s":"OS0_250","x":360,"y":20.3},{"s":"OS0_250","x":370,"y":20.1},{"s":"OS0_250","x":380,"y":20.2},{"s":"OS0_250","x":390,"y":20},{"s":"OS0_250","x":400,"y":20.5},
{"s":"OS0_500","x":100,"y":7},{"s":"OS0_500","x":105,"y":7.1},{"s":"OS0_500","x":110,"y":7.1},{"s":"OS0_500","x":115,"y":7},{"s":"OS0_500","x":120,"y":7.2},{"s":"OS0_500","x":125,"y":7.5},{"s":"OS0_500","x":130,"y":7.6},{"s":"OS0_500","x":135,"y":7.8},{"s":"OS0_500","x":140,"y":8},{"s":"OS0_500","x":145,"y":8.3},{"s":"OS0_500","x":150,"y":8.7},{"s":"OS0_500","x":155,"y":9.5},{"s":"OS0_500","x":160,"y":10.2},{"s":"OS0_500","x":165,"y":11.5},{"s":"OS0_500","x":170,"y":12.3},{"s":"OS0_500","x":175,"y":13},{"s":"OS0_500","x":180,"y":13.7},{"s":"OS0_500","x":185,"y":14.5},{"s":"OS0_500","x":190,"y":15},{"s":"OS0_500","x":195,"y":15.3},{"s":"OS0_500","x":200,"y":15.5},{"s":"OS0_500","x":210,"y":16},{"s":"OS0_500","x":220,"y":17},{"s":"OS0_500","x":230,"y":18},{"s":"OS0_500","x":240,"y":19.5},{"s":"OS0_500","x":250,"y":20.5},{"s":"OS0_500","x":260,"y":21.3},{"s":"OS0_500","x":270,"y":22},{"s":"OS0_500","x":280,"y":22},{"s":"OS0_500","x":290,"y":22.2},{"s":"OS0_500","x":300,"y":21.5},{"s":"OS0_500","x":310,"y":21},{"s":"OS0_500","x":320,"y":21.2},{"s":"OS0_500","x":330,"y":20.3},{"s":"OS0_500","x":340,"y":20.6},{"s":"OS0_500","x":350,"y":20.3},{"s":"OS0_500","x":360,"y":20},{"s":"OS0_500","x":370,"y":20.5},{"s":"OS0_500","x":380,"y":21},{"s":"OS0_500","x":390,"y":20.6},{"s":"OS0_500","x":400,"y":20.1},
{"s":"OS0_1000","x":100,"y":5.4},{"s":"OS0_1000","x":110,"y":5.5},{"s":"OS0_1000","x":120,"y":5.8},{"s":"OS0_1000","x":130,"y":5.9},{"s":"OS0_1000","x":140,"y":6.2},{"s":"OS0_1000","x":150,"y":6.8},{"s":"OS0_1000","x":155,"y":7.3},{"s":"OS0_1000","x":160,"y":8},{"s":"OS0_1000","x":165,"y":8.8},{"s":"OS0_1000","x":170,"y":9.6},{"s":"OS0_1000","x":175,"y":10.5},{"s":"OS0_1000","x":180,"y":11.5},{"s":"OS0_1000","x":185,"y":12.5},{"s":"OS0_1000","x":190,"y":13.5},{"s":"OS0_1000","x":195,"y":14.2},{"s":"OS0_1000","x":200,"y":14.6},{"s":"OS0_1000","x":210,"y":15.5},{"s":"OS0_1000","x":220,"y":16.5},{"s":"OS0_1000","x":230,"y":17.5},{"s":"OS0_1000","x":240,"y":19},{"s":"OS0_1000","x":250,"y":20.5},{"s":"OS0_1000","x":260,"y":22},{"s":"OS0_1000","x":270,"y":22.4},{"s":"OS0_1000","x":280,"y":22},{"s":"OS0_1000","x":290,"y":22.3},{"s":"OS0_1000","x":300,"y":22},{"s":"OS0_1000","x":310,"y":21.8},{"s":"OS0_1000","x":320,"y":22},{"s":"OS0_1000","x":330,"y":21.5},{"s":"OS0_1000","x":340,"y":21},{"s":"OS0_1000","x":350,"y":20.2},{"s":"OS0_1000","x":360,"y":20.3},{"s":"OS0_1000","x":370,"y":20},{"s":"OS0_1000","x":380,"y":20.2},{"s":"OS0_1000","x":390,"y":19.8},{"s":"OS0_1000","x":400,"y":19.8},
{"s":"OS100_250","x":200,"y":14.8},{"s":"OS100_250","x":210,"y":15.5},{"s":"OS100_250","x":220,"y":16.5},{"s":"OS100_250","x":230,"y":17.5},{"s":"OS100_250","x":240,"y":18.5},{"s":"OS100_250","x":250,"y":19.5},{"s":"OS100_250","x":260,"y":20.5},{"s":"OS100_250","x":270,"y":21},{"s":"OS100_250","x":280,"y":21.5},{"s":"OS100_250","x":290,"y":22},{"s":"OS100_250","x":300,"y":22},{"s":"OS100_250","x":310,"y":21.8},{"s":"OS100_250","x":320,"y":21.5},{"s":"OS100_250","x":330,"y":21},{"s":"OS100_250","x":340,"y":20.5},{"s":"OS100_250","x":350,"y":20.3},{"s":"OS100_250","x":360,"y":20},{"s":"OS100_250","x":370,"y":20.1},{"s":"OS100_250","x":380,"y":19.8},{"s":"OS100_250","x":390,"y":20},{"s":"OS100_250","x":400,"y":20},
{"s":"OS100_500","x":200,"y":12.3},{"s":"OS100_500","x":205,"y":12.8},{"s":"OS100_500","x":210,"y":13.5},{"s":"OS100_500","x":215,"y":13.8},{"s":"OS100_500","x":220,"y":14.5},{"s":"OS100_500","x":230,"y":16.5},{"s":"OS100_500","x":240,"y":17.8},{"s":"OS100_500","x":250,"y":19},{"s":"OS100_500","x":260,"y":20.5},{"s":"OS100_500","x":270,"y":21},{"s":"OS100_500","x":280,"y":22},{"s":"OS100_500","x":290,"y":22.5},{"s":"OS100_500","x":300,"y":23.3},{"s":"OS100_500","x":310,"y":23.2},{"s":"OS100_500","x":320,"y":22.5},{"s":"OS100_500","x":330,"y":21.5},{"s":"OS100_500","x":340,"y":21},{"s":"OS100_500","x":350,"y":20.5},{"s":"OS100_500","x":360,"y":20.2},{"s":"OS100_500","x":370,"y":20},{"s":"OS100_500","x":380,"y":19.8},{"s":"OS100_500","x":390,"y":20.2},{"s":"OS100_500","x":400,"y":20},
{"s":"OS100_1000","x":200,"y":7.2},{"s":"OS100_1000","x":210,"y":7.5},{"s":"OS100_1000","x":220,"y":8.2},{"s":"OS100_1000","x":230,"y":9},{"s":"OS100_1000","x":240,"y":9.5},{"s":"OS100_1000","x":250,"y":10},{"s":"OS100_1000","x":255,"y":10.8},{"s":"OS100_1000","x":260,"y":11.8},{"s":"OS100_1000","x":265,"y":13},{"s":"OS100_1000","x":270,"y":14.3},{"s":"OS100_1000","x":275,"y":16},{"s":"OS100_1000","x":280,"y":17.5},{"s":"OS100_1000","x":285,"y":18.5},{"s":"OS100_1000","x":290,"y":18.8},{"s":"OS100_1000","x":295,"y":18.8},{"s":"OS100_1000","x":300,"y":19.2},{"s":"OS100_1000","x":305,"y":20},{"s":"OS100_1000","x":310,"y":21},{"s":"OS100_1000","x":315,"y":21.8},{"s":"OS100_1000","x":320,"y":22},{"s":"OS100_1000","x":325,"y":23.3},{"s":"OS100_1000","x":330,"y":23.5},{"s":"OS100_1000","x":335,"y":23},{"s":"OS100_1000","x":340,"y":22.8},{"s":"OS100_1000","x":345,"y":23.3},{"s":"OS100_1000","x":350,"y":23.7},{"s":"OS100_1000","x":355,"y":23},{"s":"OS100_1000","x":360,"y":22.5},{"s":"OS100_1000","x":370,"y":22.2},{"s":"OS100_1000","x":380,"y":22},{"s":"OS100_1000","x":390,"y":21.5},{"s":"OS100_1000","x":400,"y":20.8}
],
"amocband": [
{"s":"B1500","x":0,"lo":22,"hi":24},{"s":"B1500","x":10,"lo":21.8,"hi":23.8},{"s":"B1500","x":20,"lo":21.5,"hi":23.5},{"s":"B1500","x":30,"lo":21.5,"hi":23.5},{"s":"B1500","x":40,"lo":20.5,"hi":22.5},{"s":"B1500","x":50,"lo":18.5,"hi":20.5},{"s":"B1500","x":60,"lo":16.5,"hi":18.5},{"s":"B1500","x":70,"lo":14.5,"hi":16.5},{"s":"B1500","x":80,"lo":12.8,"hi":14.8},{"s":"B1500","x":90,"lo":11.5,"hi":13.5},{"s":"B1500","x":100,"lo":11,"hi":13},{"s":"B1500","x":110,"lo":10.8,"hi":12.8},{"s":"B1500","x":120,"lo":11.5,"hi":13.5},{"s":"B1500","x":130,"lo":11.2,"hi":13.2},{"s":"B1500","x":140,"lo":12.5,"hi":14.5},{"s":"B1500","x":150,"lo":13,"hi":15},{"s":"B1500","x":160,"lo":13.5,"hi":15.5},{"s":"B1500","x":170,"lo":14.5,"hi":16.5},{"s":"B1500","x":180,"lo":15,"hi":17},{"s":"B1500","x":190,"lo":15.5,"hi":17.5},{"s":"B1500","x":200,"lo":16,"hi":18},{"s":"B1500","x":210,"lo":17,"hi":19},{"s":"B1500","x":220,"lo":18,"hi":20},{"s":"B1500","x":230,"lo":19,"hi":21},{"s":"B1500","x":240,"lo":19.5,"hi":21.5},{"s":"B1500","x":250,"lo":20,"hi":22},{"s":"B1500","x":260,"lo":19.8,"hi":21.8},{"s":"B1500","x":270,"lo":19.5,"hi":21.5},{"s":"B1500","x":280,"lo":20,"hi":22},{"s":"B1500","x":290,"lo":19.5,"hi":21.5},{"s":"B1500","x":300,"lo":19.3,"hi":21.3},{"s":"B1500","x":310,"lo":19,"hi":21},{"s":"B1500","x":320,"lo":19.2,"hi":21.2},{"s":"B1500","x":330,"lo":19,"hi":21},{"s":"B1500","x":340,"lo":18.5,"hi":20.5},{"s":"B1500","x":350,"lo":18.5,"hi":20.5},{"s":"B1500","x":360,"lo":19,"hi":21},{"s":"B1500","x":370,"lo":18.8,"hi":20.8},{"s":"B1500","x":380,"lo":19,"hi":21},{"s":"B1500","x":390,"lo":18.8,"hi":20.8},{"s":"B1500","x":400,"lo":18.8,"hi":20.8},
{"s":"B1750","x":0,"lo":22,"hi":24},{"s":"B1750","x":10,"lo":21.8,"hi":23.8},{"s":"B1750","x":20,"lo":21.5,"hi":23.5},{"s":"B1750","x":30,"lo":21.3,"hi":23.3},{"s":"B1750","x":40,"lo":20,"hi":22},{"s":"B1750","x":50,"lo":17.5,"hi":19.5},{"s":"B1750","x":60,"lo":15,"hi":17},{"s":"B1750","x":70,"lo":12.5,"hi":14.5},{"s":"B1750","x":80,"lo":10.5,"hi":12.5},{"s":"B1750","x":90,"lo":9,"hi":11},{"s":"B1750","x":100,"lo":8.5,"hi":10.5},{"s":"B1750","x":110,"lo":8.3,"hi":10.3},{"s":"B1750","x":120,"lo":8.4,"hi":10.4},{"s":"B1750","x":130,"lo":8.4,"hi":10.4},{"s":"B1750","x":140,"lo":8.8,"hi":10.8},{"s":"B1750","x":150,"lo":8.6,"hi":10.6},{"s":"B1750","x":160,"lo":9.5,"hi":11.5},{"s":"B1750","x":170,"lo":10.8,"hi":12.8},{"s":"B1750","x":180,"lo":12,"hi":14},{"s":"B1750","x":190,"lo":13,"hi":15},{"s":"B1750","x":200,"lo":13.8,"hi":15.8},{"s":"B1750","x":210,"lo":14.5,"hi":16.5},{"s":"B1750","x":220,"lo":15.5,"hi":17.5},{"s":"B1750","x":230,"lo":16.5,"hi":18.5},{"s":"B1750","x":240,"lo":17.3,"hi":19.3},{"s":"B1750","x":250,"lo":18,"hi":20},{"s":"B1750","x":260,"lo":18.7,"hi":20.7},{"s":"B1750","x":270,"lo":19.3,"hi":21.3},{"s":"B1750","x":280,"lo":19.7,"hi":21.7},{"s":"B1750","x":290,"lo":19.8,"hi":21.8},{"s":"B1750","x":300,"lo":19.5,"hi":21.5},{"s":"B1750","x":310,"lo":19.5,"hi":21.5},{"s":"B1750","x":320,"lo":19.3,"hi":21.3},{"s":"B1750","x":330,"lo":19,"hi":21},{"s":"B1750","x":340,"lo":19,"hi":21},{"s":"B1750","x":350,"lo":18.8,"hi":20.8},{"s":"B1750","x":360,"lo":18.8,"hi":20.8},{"s":"B1750","x":370,"lo":18.5,"hi":20.5},{"s":"B1750","x":380,"lo":18.5,"hi":20.5},{"s":"B1750","x":390,"lo":18.5,"hi":20.5},{"s":"B1750","x":400,"lo":18.5,"hi":20.5},
{"s":"B2500","x":0,"lo":22.9,"hi":24.1},{"s":"B2500","x":10,"lo":22.4,"hi":23.6},{"s":"B2500","x":20,"lo":21.9,"hi":23.1},{"s":"B2500","x":30,"lo":21.4,"hi":22.6},{"s":"B2500","x":40,"lo":19.9,"hi":21.1},{"s":"B2500","x":50,"lo":16.4,"hi":17.6},{"s":"B2500","x":60,"lo":12.9,"hi":14.1},{"s":"B2500","x":70,"lo":9.4,"hi":10.6},{"s":"B2500","x":80,"lo":6.9,"hi":8.1},{"s":"B2500","x":90,"lo":5.4,"hi":6.6},{"s":"B2500","x":100,"lo":4.9,"hi":6.1},{"s":"B2500","x":110,"lo":5,"hi":6.2},{"s":"B2500","x":120,"lo":5.2,"hi":6.4},{"s":"B2500","x":130,"lo":5.4,"hi":6.6},{"s":"B2500","x":140,"lo":5.6,"hi":6.8},{"s":"B2500","x":150,"lo":5.7,"hi":6.9},{"s":"B2500","x":160,"lo":5.9,"hi":7.1},{"s":"B2500","x":170,"lo":6,"hi":7.2},{"s":"B2500","x":180,"lo":6.4,"hi":7.6},{"s":"B2500","x":190,"lo":6.7,"hi":7.9},{"s":"B2500","x":200,"lo":6.7,"hi":7.9},{"s":"B2500","x":210,"lo":7.2,"hi":8.4},{"s":"B2500","x":220,"lo":7.6,"hi":8.8},{"s":"B2500","x":230,"lo":8.2,"hi":9.4},{"s":"B2500","x":240,"lo":9,"hi":10.2},{"s":"B2500","x":250,"lo":9.6,"hi":10.8},{"s":"B2500","x":260,"lo":10,"hi":11.2},{"s":"B2500","x":270,"lo":10.4,"hi":11.6},{"s":"B2500","x":280,"lo":11.4,"hi":12.6},{"s":"B2500","x":290,"lo":12.9,"hi":14.1},{"s":"B2500","x":300,"lo":13.9,"hi":15.1},{"s":"B2500","x":310,"lo":14.6,"hi":15.8},{"s":"B2500","x":320,"lo":15.2,"hi":16.4},{"s":"B2500","x":330,"lo":15.9,"hi":17.1},{"s":"B2500","x":340,"lo":16.6,"hi":17.8},{"s":"B2500","x":350,"lo":17.2,"hi":18.4},{"s":"B2500","x":360,"lo":17.6,"hi":18.8},{"s":"B2500","x":370,"lo":18.2,"hi":19.4},{"s":"B2500","x":380,"lo":18.4,"hi":19.6},{"s":"B2500","x":390,"lo":18.6,"hi":19.8},{"s":"B2500","x":400,"lo":18.1,"hi":19.3}
],
"satg": [
{"s":"B1500","x":350,"y":1.63},{"s":"B1500","x":352,"y":1.61},{"s":"B1500","x":354,"y":1.62},{"s":"B1500","x":356,"y":1.63},{"s":"B1500","x":358,"y":1.64},{"s":"B1500","x":360,"y":1.63},{"s":"B1500","x":362,"y":1.62},{"s":"B1500","x":364,"y":1.64},{"s":"B1500","x":366,"y":1.66},{"s":"B1500","x":368,"y":1.68},{"s":"B1500","x":370,"y":1.69},{"s":"B1500","x":372,"y":1.7},{"s":"B1500","x":374,"y":1.71},{"s":"B1500","x":376,"y":1.71},{"s":"B1500","x":378,"y":1.7},{"s":"B1500","x":380,"y":1.7},{"s":"B1500","x":382,"y":1.7},{"s":"B1500","x":384,"y":1.7},{"s":"B1500","x":386,"y":1.7},{"s":"B1500","x":388,"y":1.69},{"s":"B1500","x":390,"y":1.7},{"s":"B1500","x":392,"y":1.7},{"s":"B1500","x":394,"y":1.69},{"s":"B1500","x":396,"y":1.69},{"s":"B1500","x":398,"y":1.68},{"s":"B1500","x":400,"y":1.67},
{"s":"OS100_250","x":350,"y":1.78},{"s":"OS100_250","x":352,"y":1.75},{"s":"OS100_250","x":354,"y":1.73},{"s":"OS100_250","x":356,"y":1.72},{"s":"OS100_250","x":358,"y":1.72},{"s":"OS100_250","x":360,"y":1.71},{"s":"OS100_250","x":362,"y":1.7},{"s":"OS100_250","x":364,"y":1.71},{"s":"OS100_250","x":366,"y":1.72},{"s":"OS100_250","x":368,"y":1.72},{"s":"OS100_250","x":370,"y":1.73},{"s":"OS100_250","x":372,"y":1.74},{"s":"OS100_250","x":374,"y":1.75},{"s":"OS100_250","x":376,"y":1.75},{"s":"OS100_250","x":378,"y":1.76},{"s":"OS100_250","x":380,"y":1.77},{"s":"OS100_250","x":382,"y":1.77},{"s":"OS100_250","x":384,"y":1.77},{"s":"OS100_250","x":386,"y":1.77},{"s":"OS100_250","x":388,"y":1.77},{"s":"OS100_250","x":390,"y":1.77},{"s":"OS100_250","x":392,"y":1.76},{"s":"OS100_250","x":394,"y":1.76},{"s":"OS100_250","x":396,"y":1.76},{"s":"OS100_250","x":398,"y":1.77},{"s":"OS100_250","x":400,"y":1.78},
{"s":"OS0_250","x":350,"y":1.7},{"s":"OS0_250","x":352,"y":1.73},{"s":"OS0_250","x":354,"y":1.74},{"s":"OS0_250","x":356,"y":1.74},{"s":"OS0_250","x":358,"y":1.74},{"s":"OS0_250","x":360,"y":1.75},{"s":"OS0_250","x":362,"y":1.74},{"s":"OS0_250","x":364,"y":1.75},{"s":"OS0_250","x":366,"y":1.75},{"s":"OS0_250","x":368,"y":1.75},{"s":"OS0_250","x":370,"y":1.75},{"s":"OS0_250","x":372,"y":1.76},{"s":"OS0_250","x":374,"y":1.76},{"s":"OS0_250","x":376,"y":1.76},{"s":"OS0_250","x":378,"y":1.77},{"s":"OS0_250","x":380,"y":1.79},{"s":"OS0_250","x":382,"y":1.79},{"s":"OS0_250","x":384,"y":1.8},{"s":"OS0_250","x":386,"y":1.81},{"s":"OS0_250","x":388,"y":1.82},{"s":"OS0_250","x":390,"y":1.83},{"s":"OS0_250","x":392,"y":1.81},{"s":"OS0_250","x":394,"y":1.81},{"s":"OS0_250","x":396,"y":1.81},{"s":"OS0_250","x":398,"y":1.8},{"s":"OS0_250","x":400,"y":1.78},
{"s":"OS0_500","x":350,"y":1.63},{"s":"OS0_500","x":352,"y":1.63},{"s":"OS0_500","x":354,"y":1.66},{"s":"OS0_500","x":356,"y":1.69},{"s":"OS0_500","x":358,"y":1.71},{"s":"OS0_500","x":360,"y":1.66},{"s":"OS0_500","x":361,"y":1.65},{"s":"OS0_500","x":362,"y":1.69},{"s":"OS0_500","x":364,"y":1.66},{"s":"OS0_500","x":366,"y":1.68},{"s":"OS0_500","x":368,"y":1.64},{"s":"OS0_500","x":369,"y":1.63},{"s":"OS0_500","x":370,"y":1.67},{"s":"OS0_500","x":372,"y":1.65},{"s":"OS0_500","x":374,"y":1.67},{"s":"OS0_500","x":376,"y":1.67},{"s":"OS0_500","x":378,"y":1.66},{"s":"OS0_500","x":379,"y":1.63},{"s":"OS0_500","x":380,"y":1.64},{"s":"OS0_500","x":382,"y":1.66},{"s":"OS0_500","x":384,"y":1.63},{"s":"OS0_500","x":386,"y":1.63},{"s":"OS0_500","x":388,"y":1.66},{"s":"OS0_500","x":390,"y":1.68},{"s":"OS0_500","x":391,"y":1.67},{"s":"OS0_500","x":392,"y":1.65},{"s":"OS0_500","x":393,"y":1.66},{"s":"OS0_500","x":394,"y":1.69},{"s":"OS0_500","x":396,"y":1.67},{"s":"OS0_500","x":398,"y":1.65},{"s":"OS0_500","x":400,"y":1.6},
{"s":"OS100_500","x":350,"y":1.66},{"s":"OS100_500","x":352,"y":1.66},{"s":"OS100_500","x":354,"y":1.64},{"s":"OS100_500","x":356,"y":1.64},{"s":"OS100_500","x":358,"y":1.62},{"s":"OS100_500","x":360,"y":1.63},{"s":"OS100_500","x":362,"y":1.6},{"s":"OS100_500","x":364,"y":1.64},{"s":"OS100_500","x":366,"y":1.65},{"s":"OS100_500","x":368,"y":1.64},{"s":"OS100_500","x":369,"y":1.57},{"s":"OS100_500","x":371,"y":1.56},{"s":"OS100_500","x":373,"y":1.57},{"s":"OS100_500","x":374,"y":1.56},{"s":"OS100_500","x":376,"y":1.58},{"s":"OS100_500","x":378,"y":1.55},{"s":"OS100_500","x":380,"y":1.61},{"s":"OS100_500","x":382,"y":1.65},{"s":"OS100_500","x":384,"y":1.62},{"s":"OS100_500","x":386,"y":1.61},{"s":"OS100_500","x":388,"y":1.62},{"s":"OS100_500","x":390,"y":1.66},{"s":"OS100_500","x":392,"y":1.62},{"s":"OS100_500","x":394,"y":1.64},{"s":"OS100_500","x":396,"y":1.65},{"s":"OS100_500","x":398,"y":1.64},{"s":"OS100_500","x":400,"y":1.6},
{"s":"OS0_1000","x":350,"y":1.79},{"s":"OS0_1000","x":351,"y":1.8},{"s":"OS0_1000","x":352,"y":1.81},{"s":"OS0_1000","x":354,"y":1.8},{"s":"OS0_1000","x":356,"y":1.81},{"s":"OS0_1000","x":358,"y":1.79},{"s":"OS0_1000","x":360,"y":1.8},{"s":"OS0_1000","x":362,"y":1.8},{"s":"OS0_1000","x":364,"y":1.79},{"s":"OS0_1000","x":366,"y":1.8},{"s":"OS0_1000","x":368,"y":1.78},{"s":"OS0_1000","x":370,"y":1.76},{"s":"OS0_1000","x":373,"y":1.75},{"s":"OS0_1000","x":374,"y":1.73},{"s":"OS0_1000","x":376,"y":1.72},{"s":"OS0_1000","x":378,"y":1.7},{"s":"OS0_1000","x":380,"y":1.73},{"s":"OS0_1000","x":382,"y":1.73},{"s":"OS0_1000","x":384,"y":1.72},{"s":"OS0_1000","x":386,"y":1.74},{"s":"OS0_1000","x":388,"y":1.74},{"s":"OS0_1000","x":390,"y":1.73},{"s":"OS0_1000","x":392,"y":1.75},{"s":"OS0_1000","x":394,"y":1.76},{"s":"OS0_1000","x":396,"y":1.76},{"s":"OS0_1000","x":398,"y":1.75},{"s":"OS0_1000","x":400,"y":1.79},
{"s":"OS100_1000","x":350,"y":1.98},{"s":"OS100_1000","x":351,"y":2.0},{"s":"OS100_1000","x":352,"y":2.02},{"s":"OS100_1000","x":355,"y":2.02},{"s":"OS100_1000","x":357,"y":2.04},{"s":"OS100_1000","x":358,"y":2.03},{"s":"OS100_1000","x":360,"y":2.03},{"s":"OS100_1000","x":362,"y":1.97},{"s":"OS100_1000","x":363,"y":1.97},{"s":"OS100_1000","x":365,"y":2.01},{"s":"OS100_1000","x":367,"y":2.01},{"s":"OS100_1000","x":369,"y":2.02},{"s":"OS100_1000","x":370,"y":2.0},{"s":"OS100_1000","x":372,"y":2.02},{"s":"OS100_1000","x":373,"y":2.03},{"s":"OS100_1000","x":375,"y":2.02},{"s":"OS100_1000","x":377,"y":2.0},{"s":"OS100_1000","x":379,"y":2.0},{"s":"OS100_1000","x":380,"y":1.97},{"s":"OS100_1000","x":382,"y":1.98},{"s":"OS100_1000","x":384,"y":1.98},{"s":"OS100_1000","x":385,"y":2.0},{"s":"OS100_1000","x":387,"y":1.96},{"s":"OS100_1000","x":390,"y":1.96},{"s":"OS100_1000","x":392,"y":1.97},{"s":"OS100_1000","x":394,"y":1.95},{"s":"OS100_1000","x":396,"y":1.93},{"s":"OS100_1000","x":398,"y":1.96},{"s":"OS100_1000","x":400,"y":1.96}
],
"satgband": [
{"s":"B1500","x":350,"lo":1.53,"hi":1.68},{"s":"B1500","x":352,"lo":1.52,"hi":1.66},{"s":"B1500","x":355,"lo":1.55,"hi":1.67},{"s":"B1500","x":358,"lo":1.55,"hi":1.7},{"s":"B1500","x":360,"lo":1.54,"hi":1.72},{"s":"B1500","x":362,"lo":1.5,"hi":1.72},{"s":"B1500","x":365,"lo":1.53,"hi":1.74},{"s":"B1500","x":368,"lo":1.55,"hi":1.78},{"s":"B1500","x":370,"lo":1.56,"hi":1.8},{"s":"B1500","x":373,"lo":1.55,"hi":1.84},{"s":"B1500","x":375,"lo":1.57,"hi":1.86},{"s":"B1500","x":377,"lo":1.57,"hi":1.86},{"s":"B1500","x":380,"lo":1.57,"hi":1.84},{"s":"B1500","x":383,"lo":1.56,"hi":1.83},{"s":"B1500","x":386,"lo":1.55,"hi":1.82},{"s":"B1500","x":390,"lo":1.55,"hi":1.83},{"s":"B1500","x":393,"lo":1.55,"hi":1.85},{"s":"B1500","x":396,"lo":1.55,"hi":1.87},{"s":"B1500","x":398,"lo":1.54,"hi":1.85},{"s":"B1500","x":400,"lo":1.52,"hi":1.82}
]
}
}
